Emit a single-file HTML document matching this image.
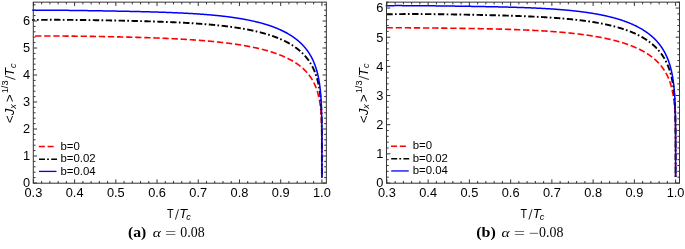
<!DOCTYPE html>
<html><head><meta charset="utf-8"><style>
html,body{margin:0;padding:0;background:#fff;}
body{width:685px;height:249px;overflow:hidden;}
svg{display:block;will-change:transform;}
.tl{font-family:"Liberation Sans",sans-serif;font-size:12.8px;fill:#000;}
.lg{font-family:"Liberation Sans",sans-serif;font-size:11.4px;fill:#000;}
.al{font-family:"Liberation Sans",sans-serif;font-size:13px;fill:#000;}
.yl{font-family:"Liberation Sans",sans-serif;font-size:13.4px;fill:#000;}
.sub{font-size:9.2px;}
.sup{font-size:9.2px;}
.cap{font-family:"Liberation Serif",serif;font-size:13.3px;fill:#000;}
.cap.dg{font-size:13.9px;}
.cap.bl{font-size:14.2px;}
.cap.al2{font-size:12.2px;}
</style></head><body>
<svg width="685" height="249" viewBox="0 0 685 249">
<rect width="685" height="249" fill="#fff"/>
<path d="M32.20,35.97 L33.40,35.97 L34.12,35.97 L34.84,35.97 L35.56,35.97 L36.27,35.97 L36.99,35.97 L37.70,35.97 L38.41,35.96 L39.13,35.96 L39.83,35.96 L40.54,35.96 L41.25,35.96 L41.95,35.97 L42.66,35.97 L43.36,35.97 L44.06,35.97 L44.76,35.97 L45.46,35.97 L46.15,35.97 L46.85,35.97 L47.54,35.98 L48.24,35.98 L48.93,35.98 L49.62,35.98 L50.30,35.99 L50.99,35.99 L51.68,35.99 L52.36,35.99 L53.04,36.00 L53.72,36.00 L54.40,36.00 L55.08,36.01 L55.76,36.01 L56.43,36.01 L57.11,36.02 L57.78,36.02 L58.45,36.03 L59.12,36.03 L59.79,36.04 L60.46,36.04 L61.13,36.05 L61.79,36.05 L62.45,36.06 L63.12,36.06 L63.78,36.07 L64.44,36.07 L65.09,36.08 L65.75,36.08 L66.41,36.09 L67.06,36.09 L67.71,36.10 L68.36,36.10 L69.01,36.11 L69.66,36.12 L70.31,36.12 L70.96,36.13 L71.60,36.14 L72.24,36.14 L72.88,36.15 L73.53,36.16 L74.16,36.16 L74.80,36.17 L75.44,36.18 L76.07,36.18 L76.71,36.19 L77.34,36.20 L77.97,36.21 L78.60,36.21 L79.23,36.22 L79.86,36.23 L80.49,36.24 L81.11,36.24 L81.73,36.25 L82.36,36.26 L82.98,36.27 L83.60,36.27 L84.22,36.28 L84.83,36.29 L85.45,36.30 L86.06,36.31 L86.68,36.32 L87.29,36.32 L87.90,36.33 L88.51,36.34 L89.12,36.35 L89.72,36.36 L90.33,36.37 L90.94,36.38 L91.54,36.39 L92.14,36.40 L92.74,36.40 L93.34,36.41 L93.94,36.42 L94.54,36.43 L95.13,36.44 L95.73,36.45 L96.32,36.46 L96.91,36.47 L97.50,36.48 L98.09,36.49 L98.68,36.50 L99.27,36.51 L99.85,36.52 L100.44,36.53 L101.02,36.54 L101.60,36.55 L102.18,36.56 L102.76,36.57 L103.34,36.58 L103.92,36.59 L104.49,36.60 L105.07,36.61 L105.64,36.62 L106.21,36.63 L106.78,36.64 L107.35,36.65 L107.92,36.66 L108.49,36.68 L109.06,36.69 L109.62,36.70 L110.19,36.71 L110.75,36.72 L111.31,36.73 L111.87,36.74 L112.43,36.75 L112.99,36.76 L113.54,36.78 L114.10,36.79 L114.65,36.80 L115.21,36.81 L115.76,36.82 L116.31,36.83 L116.86,36.85 L117.41,36.86 L117.95,36.87 L118.50,36.88 L119.04,36.89 L119.59,36.91 L120.13,36.92 L120.67,36.93 L121.21,36.94 L121.75,36.96 L122.29,36.97 L122.83,36.98 L123.36,36.99 L123.90,37.01 L124.43,37.02 L124.96,37.03 L125.49,37.04 L126.02,37.06 L126.55,37.07 L127.08,37.08 L127.61,37.10 L128.13,37.11 L128.65,37.12 L129.18,37.14 L129.70,37.15 L130.22,37.16 L130.74,37.18 L131.26,37.19 L131.78,37.20 L132.29,37.22 L132.81,37.23 L133.32,37.25 L133.83,37.26 L134.35,37.27 L134.86,37.29 L135.37,37.30 L135.87,37.32 L136.38,37.33 L136.89,37.34 L137.39,37.36 L137.90,37.37 L138.40,37.39 L138.90,37.40 L139.40,37.42 L140.15,37.44 L140.90,37.46 L141.64,37.48 L142.38,37.51 L143.12,37.53 L143.86,37.55 L144.59,37.58 L145.33,37.60 L146.05,37.62 L146.78,37.65 L147.51,37.67 L148.23,37.70 L148.95,37.72 L149.67,37.74 L150.38,37.77 L151.09,37.79 L151.80,37.82 L152.51,37.84 L153.22,37.87 L153.92,37.89 L154.62,37.92 L155.32,37.95 L156.02,37.97 L156.71,38.00 L157.40,38.03 L158.09,38.05 L158.78,38.08 L159.46,38.11 L160.14,38.13 L160.82,38.16 L161.50,38.19 L162.18,38.22 L162.85,38.24 L163.52,38.27 L164.19,38.30 L164.86,38.33 L165.52,38.36 L166.18,38.39 L166.84,38.42 L167.50,38.45 L168.16,38.48 L168.81,38.51 L169.46,38.54 L170.11,38.57 L170.75,38.60 L171.40,38.63 L172.04,38.66 L172.68,38.69 L173.32,38.72 L173.95,38.75 L174.59,38.78 L175.22,38.82 L175.85,38.85 L176.47,38.88 L177.10,38.91 L177.72,38.95 L178.34,38.98 L178.96,39.01 L179.57,39.05 L180.19,39.08 L180.80,39.11 L181.41,39.15 L182.02,39.18 L182.62,39.22 L183.22,39.25 L183.83,39.29 L184.42,39.32 L185.02,39.36 L185.62,39.39 L186.21,39.43 L186.80,39.47 L187.39,39.50 L187.98,39.54 L188.56,39.58 L189.14,39.61 L189.72,39.65 L190.30,39.69 L190.88,39.73 L191.45,39.76 L192.03,39.80 L192.60,39.84 L193.16,39.88 L193.73,39.92 L194.30,39.96 L194.86,40.00 L195.42,40.04 L195.98,40.08 L196.53,40.12 L197.09,40.16 L197.64,40.20 L198.19,40.24 L198.74,40.28 L199.29,40.32 L199.83,40.37 L200.37,40.41 L200.92,40.45 L201.45,40.49 L201.99,40.53 L202.53,40.58 L203.06,40.62 L203.59,40.66 L204.12,40.71 L204.65,40.75 L205.17,40.80 L205.70,40.84 L206.22,40.88 L206.74,40.93 L207.26,40.97 L207.77,41.02 L208.29,41.07 L208.80,41.11 L209.31,41.16 L209.82,41.20 L210.33,41.25 L210.83,41.30 L211.34,41.34 L211.84,41.39 L212.34,41.44 L212.83,41.49 L213.50,41.55 L214.15,41.62 L214.81,41.68 L215.46,41.75 L216.11,41.81 L216.75,41.88 L217.39,41.95 L218.03,42.01 L218.67,42.08 L219.30,42.15 L219.93,42.22 L220.56,42.29 L221.18,42.36 L221.80,42.43 L222.42,42.50 L223.03,42.57 L223.64,42.64 L224.25,42.71 L224.86,42.78 L225.46,42.86 L226.06,42.93 L226.65,43.00 L227.25,43.08 L227.84,43.15 L228.42,43.23 L229.01,43.30 L229.59,43.38 L230.17,43.45 L230.74,43.53 L231.32,43.61 L231.89,43.68 L232.45,43.76 L233.02,43.84 L233.58,43.92 L234.14,44.00 L234.69,44.08 L235.24,44.16 L235.79,44.24 L236.34,44.32 L236.88,44.40 L237.43,44.48 L237.96,44.56 L238.50,44.65 L239.03,44.73 L239.56,44.81 L240.09,44.90 L240.62,44.98 L241.14,45.07 L241.66,45.15 L242.18,45.24 L242.69,45.32 L243.20,45.41 L243.71,45.50 L244.22,45.58 L244.72,45.67 L245.22,45.76 L245.72,45.85 L246.22,45.94 L246.71,46.03 L247.32,46.14 L247.93,46.25 L248.54,46.37 L249.14,46.48 L249.74,46.60 L250.33,46.71 L250.92,46.83 L251.50,46.95 L252.09,47.06 L252.66,47.18 L253.24,47.30 L253.81,47.42 L254.37,47.54 L254.94,47.66 L255.50,47.78 L256.05,47.90 L256.60,48.03 L257.15,48.15 L257.69,48.27 L258.23,48.40 L258.77,48.52 L259.30,48.65 L259.83,48.78 L260.36,48.90 L260.88,49.03 L261.40,49.16 L261.91,49.29 L262.43,49.42 L262.93,49.55 L263.44,49.68 L263.94,49.81 L264.44,49.94 L264.93,50.07 L265.42,50.21 L265.91,50.34 L266.39,50.47 L266.97,50.64 L267.54,50.80 L268.11,50.96 L268.67,51.13 L269.23,51.29 L269.78,51.46 L270.33,51.62 L270.87,51.79 L271.41,51.96 L271.95,52.13 L272.48,52.30 L273.00,52.47 L273.52,52.64 L274.04,52.81 L274.55,52.98 L275.06,53.16 L275.56,53.33 L276.06,53.51 L276.56,53.68 L277.05,53.86 L277.53,54.04 L278.02,54.22 L278.49,54.40 L278.97,54.58 L279.44,54.76 L279.98,54.97 L280.52,55.18 L281.05,55.39 L281.57,55.61 L282.09,55.82 L282.61,56.04 L283.12,56.26 L283.62,56.47 L284.12,56.69 L284.62,56.91 L285.10,57.13 L285.59,57.36 L286.07,57.58 L286.54,57.80 L287.01,58.03 L287.47,58.25 L287.93,58.48 L288.38,58.71 L288.83,58.94 L289.34,59.20 L289.84,59.46 L290.33,59.72 L290.82,59.99 L291.31,60.26 L291.78,60.52 L292.25,60.79 L292.72,61.06 L293.18,61.33 L293.63,61.60 L294.08,61.88 L294.52,62.15 L294.95,62.43 L295.38,62.70 L295.81,62.98 L296.23,63.26 L296.69,63.57 L297.15,63.88 L297.60,64.20 L298.05,64.52 L298.49,64.84 L298.92,65.16 L299.34,65.48 L299.76,65.80 L300.18,66.12 L300.58,66.45 L300.98,66.77 L301.38,67.10 L301.77,67.43 L302.15,67.76 L302.53,68.09 L302.94,68.45 L303.35,68.82 L303.74,69.19 L304.13,69.57 L304.52,69.94 L304.90,70.31 L305.27,70.69 L305.63,71.07 L305.99,71.44 L306.34,71.82 L306.69,72.20 L307.03,72.59 L307.36,72.97 L307.69,73.35 L308.01,73.74 L308.36,74.16 L308.70,74.59 L309.03,75.02 L309.36,75.45 L309.68,75.88 L309.99,76.31 L310.30,76.74 L310.60,77.18 L310.89,77.61 L311.18,78.05 L311.46,78.49 L311.74,78.93 L312.01,79.37 L312.27,79.81 L312.53,80.25 L312.78,80.70 L313.03,81.14 L313.27,81.59 L313.51,82.03 L313.74,82.48 L313.97,82.93 L314.19,83.38 L314.40,83.83 L314.64,84.33 L314.86,84.82 L315.08,85.32 L315.29,85.82 L315.50,86.32 L315.70,86.82 L315.90,87.32 L316.09,87.82 L316.28,88.33 L316.47,88.83 L316.64,89.34 L316.82,89.84 L316.99,90.35 L317.15,90.86 L317.31,91.37 L317.47,91.88 L317.62,92.40 L317.76,92.91 L317.91,93.43 L318.05,93.94 L318.18,94.46 L318.31,94.98 L318.44,95.50 L318.56,96.02 L318.68,96.54 L318.80,97.06 L318.91,97.59 L319.02,98.11 L319.13,98.64 L319.23,99.16 L319.34,99.69 L319.43,100.22 L319.53,100.75 L319.62,101.28 L319.71,101.81 L319.79,102.34 L319.88,102.88 L319.96,103.41 L320.04,103.95 L320.11,104.49 L320.18,105.02 L320.25,105.56 L320.32,106.10 L320.39,106.64 L320.45,107.14 L320.50,107.64 L320.56,108.13 L320.61,108.63 L320.66,109.13 L320.71,109.63 L320.76,110.14 L320.81,110.64 L320.85,111.14 L320.90,111.65 L320.94,112.15 L320.98,112.66 L321.02,113.16 L321.06,113.67 L321.09,114.18 L321.13,114.69 L321.16,115.20 L321.20,115.71 L321.23,116.22 L321.26,116.74 L321.29,117.25 L321.32,117.76 L321.34,118.28 L321.37,118.80 L321.39,119.31 L321.42,119.83 L321.44,120.35 L321.46,120.87 L321.49,121.39 L321.51,121.92 L321.53,122.44 L321.55,122.96 L321.56,123.49 L321.58,124.01 L321.60,124.54 L321.61,125.07 L321.63,125.60 L321.64,126.13 L321.66,126.66 L321.67,127.19 L321.68,127.73 L321.70,128.26 L321.71,128.80 L321.72,129.33 L321.73,129.87 L321.74,130.41 L321.75,130.95 L321.76,131.49 L321.77,132.03 L321.78,132.58 L321.78,133.12 L321.79,133.67 L321.80,134.21 L321.80,134.76 L321.81,135.31 L321.82,135.81 L321.82,136.31 L321.83,136.82 L321.83,137.32 L321.84,137.83 L321.84,138.33 L321.84,138.84 L321.85,139.35 L321.85,139.86 L321.85,140.37 L321.86,140.88 L321.86,141.40 L321.86,141.91 L321.87,142.43 L321.87,142.94 L321.87,143.46 L321.87,143.98 L321.88,144.51 L321.88,145.03 L321.88,145.55 L321.88,146.08 L321.88,146.61 L321.88,147.14 L321.89,147.67 L321.89,148.20 L321.89,148.73 L321.89,149.27 L321.89,149.81 L321.89,150.34 L321.89,150.89 L321.89,151.43 L321.89,151.97 L321.89,152.52 L321.89,153.07 L321.90,153.62 L321.90,154.17 L321.90,154.72 L321.90,155.23 L321.90,155.73 L321.90,156.23 L321.90,156.74 L321.90,157.25 L321.90,157.76 L321.90,158.27 L321.90,158.79 L321.90,159.30 L321.90,159.82 L321.90,160.34 L321.90,160.87 L321.90,161.40 L321.90,161.92 L321.90,162.46 L321.90,162.99 L321.90,163.53 L321.90,164.07 L321.90,164.61 L321.90,165.16 L321.90,165.71 L321.90,166.26 L321.90,166.82 L321.90,167.38 L321.90,167.88 L321.90,168.39 L321.90,168.90 L321.90,169.41 L321.90,169.93 L321.90,170.45 L321.90,170.97 L321.90,171.50 L321.90,172.04 L321.90,172.58 L321.90,173.12 L321.90,173.68 L321.90,174.23 L321.90,174.80 L321.90,175.30 L321.90,175.81 L321.90,176.32 L321.90,176.85 L321.90,177.38 L321.90,177.53" stroke="#f00" stroke-width="1.6" fill="none" stroke-dasharray="6.3 2.8" stroke-dashoffset="6.2"/>
<path d="M32.20,19.94 L33.40,19.94 L34.12,19.93 L34.84,19.92 L35.56,19.91 L36.27,19.90 L36.99,19.89 L37.70,19.89 L38.41,19.88 L39.13,19.87 L39.83,19.87 L40.54,19.86 L41.25,19.86 L41.95,19.85 L42.66,19.85 L43.36,19.84 L44.06,19.84 L44.76,19.84 L45.46,19.83 L46.15,19.83 L46.85,19.83 L47.54,19.82 L48.24,19.82 L48.93,19.82 L49.62,19.82 L50.30,19.82 L50.99,19.82 L51.68,19.82 L52.36,19.82 L53.04,19.82 L53.72,19.82 L54.40,19.82 L55.08,19.82 L55.76,19.82 L56.43,19.82 L57.11,19.82 L57.78,19.82 L58.45,19.82 L59.12,19.82 L59.79,19.83 L60.46,19.83 L61.13,19.83 L61.79,19.83 L62.45,19.84 L63.12,19.84 L63.78,19.84 L64.44,19.85 L65.09,19.85 L65.75,19.85 L66.41,19.86 L67.06,19.86 L67.71,19.87 L68.36,19.87 L69.01,19.88 L69.66,19.88 L70.31,19.89 L70.96,19.89 L71.60,19.90 L72.24,19.90 L72.88,19.91 L73.53,19.91 L74.16,19.92 L74.80,19.92 L75.44,19.93 L76.07,19.94 L76.71,19.94 L77.34,19.95 L77.97,19.96 L78.60,19.96 L79.23,19.97 L79.86,19.98 L80.49,19.98 L81.11,19.99 L81.73,20.00 L82.36,20.00 L82.98,20.01 L83.60,20.02 L84.22,20.03 L84.83,20.03 L85.45,20.04 L86.06,20.05 L86.68,20.06 L87.29,20.07 L87.90,20.07 L88.51,20.08 L89.12,20.09 L89.72,20.10 L90.33,20.11 L90.94,20.11 L91.54,20.12 L92.14,20.13 L92.74,20.14 L93.34,20.15 L93.94,20.16 L94.54,20.17 L95.13,20.18 L95.73,20.18 L96.32,20.19 L96.91,20.20 L97.50,20.21 L98.09,20.22 L98.68,20.23 L99.27,20.24 L99.85,20.25 L100.44,20.26 L101.02,20.27 L101.60,20.28 L102.18,20.29 L102.76,20.30 L103.34,20.31 L103.92,20.32 L104.49,20.33 L105.07,20.34 L105.64,20.35 L106.21,20.36 L106.78,20.37 L107.35,20.38 L107.92,20.39 L108.49,20.40 L109.06,20.41 L109.62,20.42 L110.19,20.43 L110.75,20.44 L111.31,20.45 L111.87,20.46 L112.43,20.47 L112.99,20.48 L113.54,20.50 L114.10,20.51 L114.65,20.52 L115.21,20.53 L115.76,20.54 L116.31,20.55 L116.86,20.56 L117.41,20.57 L117.95,20.58 L118.50,20.59 L119.04,20.61 L119.59,20.62 L120.13,20.63 L120.67,20.64 L121.21,20.65 L121.75,20.66 L122.29,20.67 L122.83,20.69 L123.36,20.70 L123.90,20.71 L124.43,20.72 L124.96,20.73 L125.49,20.75 L126.02,20.76 L126.55,20.77 L127.08,20.78 L127.61,20.79 L128.13,20.81 L128.65,20.82 L129.18,20.83 L129.70,20.84 L130.22,20.85 L130.74,20.87 L131.26,20.88 L131.78,20.89 L132.29,20.90 L132.81,20.92 L133.32,20.93 L133.83,20.94 L134.35,20.96 L134.86,20.97 L135.37,20.98 L135.87,20.99 L136.38,21.01 L136.89,21.02 L137.39,21.03 L137.90,21.05 L138.40,21.06 L138.90,21.07 L139.40,21.09 L140.15,21.11 L140.90,21.13 L141.64,21.15 L142.38,21.17 L143.12,21.19 L143.86,21.21 L144.59,21.23 L145.33,21.25 L146.05,21.27 L146.78,21.29 L147.51,21.32 L148.23,21.34 L148.95,21.36 L149.67,21.38 L150.38,21.40 L151.09,21.43 L151.80,21.45 L152.51,21.47 L153.22,21.49 L153.92,21.52 L154.62,21.54 L155.32,21.56 L156.02,21.59 L156.71,21.61 L157.40,21.63 L158.09,21.66 L158.78,21.68 L159.46,21.71 L160.14,21.73 L160.82,21.75 L161.50,21.78 L162.18,21.80 L162.85,21.83 L163.52,21.85 L164.19,21.88 L164.86,21.91 L165.52,21.93 L166.18,21.96 L166.84,21.98 L167.50,22.01 L168.16,22.04 L168.81,22.06 L169.46,22.09 L170.11,22.12 L170.75,22.15 L171.40,22.17 L172.04,22.20 L172.68,22.23 L173.32,22.26 L173.95,22.29 L174.59,22.32 L175.22,22.34 L175.85,22.37 L176.47,22.40 L177.10,22.43 L177.72,22.46 L178.34,22.49 L178.96,22.52 L179.57,22.55 L180.19,22.58 L180.80,22.61 L181.41,22.65 L182.02,22.68 L182.62,22.71 L183.22,22.74 L183.83,22.77 L184.42,22.81 L185.02,22.84 L185.62,22.87 L186.21,22.90 L186.80,22.94 L187.39,22.97 L187.98,23.00 L188.56,23.04 L189.14,23.07 L189.72,23.11 L190.30,23.14 L190.88,23.18 L191.45,23.21 L192.03,23.25 L192.60,23.28 L193.16,23.32 L193.73,23.36 L194.30,23.39 L194.86,23.43 L195.42,23.47 L195.98,23.50 L196.53,23.54 L197.09,23.58 L197.64,23.62 L198.19,23.66 L198.74,23.69 L199.29,23.73 L199.83,23.77 L200.37,23.81 L200.92,23.85 L201.45,23.89 L201.99,23.93 L202.53,23.97 L203.06,24.01 L203.59,24.06 L204.12,24.10 L204.65,24.14 L205.17,24.18 L205.70,24.22 L206.22,24.26 L206.74,24.31 L207.26,24.35 L207.77,24.39 L208.29,24.44 L208.80,24.48 L209.31,24.53 L209.82,24.57 L210.33,24.61 L210.83,24.66 L211.34,24.71 L211.84,24.75 L212.34,24.80 L213.00,24.86 L213.66,24.92 L214.32,24.98 L214.97,25.05 L215.62,25.11 L216.27,25.17 L216.91,25.24 L217.55,25.30 L218.19,25.37 L218.83,25.44 L219.46,25.50 L220.09,25.57 L220.71,25.64 L221.34,25.71 L221.96,25.77 L222.57,25.84 L223.18,25.91 L223.80,25.98 L224.40,26.05 L225.01,26.13 L225.61,26.20 L226.21,26.27 L226.80,26.34 L227.39,26.42 L227.98,26.49 L228.57,26.57 L229.15,26.64 L229.73,26.72 L230.31,26.79 L230.89,26.87 L231.46,26.95 L232.03,27.02 L232.59,27.10 L233.16,27.18 L233.72,27.26 L234.27,27.34 L234.83,27.42 L235.38,27.50 L235.93,27.58 L236.48,27.66 L237.02,27.75 L237.56,27.83 L238.10,27.91 L238.63,28.00 L239.17,28.08 L239.70,28.17 L240.22,28.25 L240.75,28.34 L241.27,28.43 L241.79,28.51 L242.31,28.60 L242.82,28.69 L243.33,28.78 L243.84,28.87 L244.34,28.96 L244.85,29.05 L245.35,29.14 L245.85,29.23 L246.34,29.32 L246.83,29.41 L247.45,29.53 L248.05,29.65 L248.66,29.76 L249.26,29.88 L249.86,30.00 L250.45,30.12 L251.04,30.24 L251.62,30.36 L252.20,30.49 L252.78,30.61 L253.35,30.73 L253.92,30.86 L254.49,30.98 L255.05,31.11 L255.61,31.24 L256.16,31.36 L256.71,31.49 L257.26,31.62 L257.80,31.75 L258.34,31.88 L258.88,32.01 L259.41,32.15 L259.94,32.28 L260.46,32.41 L260.98,32.55 L261.50,32.68 L262.02,32.82 L262.53,32.96 L263.04,33.09 L263.54,33.23 L264.04,33.37 L264.54,33.51 L265.03,33.65 L265.52,33.79 L266.01,33.94 L266.49,34.08 L266.97,34.22 L267.54,34.39 L268.11,34.57 L268.67,34.74 L269.23,34.92 L269.78,35.10 L270.33,35.27 L270.87,35.45 L271.41,35.63 L271.95,35.82 L272.48,36.00 L273.00,36.18 L273.52,36.36 L274.04,36.55 L274.55,36.74 L275.06,36.92 L275.56,37.11 L276.06,37.30 L276.56,37.49 L277.05,37.68 L277.53,37.87 L278.02,38.06 L278.49,38.26 L278.97,38.45 L279.44,38.65 L279.90,38.84 L280.36,39.04 L280.90,39.27 L281.42,39.50 L281.95,39.74 L282.46,39.97 L282.97,40.21 L283.48,40.44 L283.98,40.68 L284.47,40.92 L284.97,41.16 L285.45,41.40 L285.93,41.65 L286.40,41.89 L286.87,42.14 L287.34,42.38 L287.80,42.63 L288.25,42.88 L288.70,43.13 L289.15,43.38 L289.59,43.63 L290.03,43.88 L290.46,44.14 L290.94,44.43 L291.43,44.72 L291.90,45.02 L292.37,45.31 L292.83,45.61 L293.29,45.91 L293.74,46.21 L294.19,46.51 L294.63,46.81 L295.06,47.11 L295.49,47.42 L295.91,47.72 L296.33,48.03 L296.74,48.34 L297.15,48.65 L297.55,48.96 L297.95,49.27 L298.34,49.58 L298.78,49.94 L299.20,50.29 L299.62,50.65 L300.04,51.01 L300.45,51.37 L300.85,51.73 L301.25,52.09 L301.64,52.45 L302.02,52.82 L302.40,53.18 L302.78,53.55 L303.14,53.92 L303.51,54.29 L303.86,54.66 L304.21,55.04 L304.56,55.41 L304.90,55.79 L305.23,56.16 L305.56,56.54 L305.92,56.96 L306.27,57.38 L306.62,57.81 L306.96,58.24 L307.30,58.66 L307.62,59.09 L307.95,59.52 L308.26,59.95 L308.57,60.39 L308.88,60.82 L309.18,61.26 L309.47,61.69 L309.76,62.13 L310.05,62.57 L310.32,63.01 L310.60,63.45 L310.86,63.90 L311.13,64.34 L311.38,64.79 L311.64,65.24 L311.88,65.69 L312.13,66.13 L312.37,66.59 L312.60,67.04 L312.83,67.49 L313.05,67.95 L313.27,68.40 L313.49,68.86 L313.70,69.32 L313.91,69.77 L314.11,70.23 L314.31,70.70 L314.50,71.16 L314.69,71.62 L314.88,72.09 L315.08,72.60 L315.28,73.11 L315.47,73.63 L315.65,74.14 L315.84,74.66 L316.01,75.18 L316.19,75.70 L316.36,76.22 L316.53,76.74 L316.69,77.26 L316.85,77.78 L317.00,78.31 L317.15,78.84 L317.30,79.36 L317.44,79.89 L317.58,80.42 L317.71,80.95 L317.85,81.48 L317.98,82.02 L318.10,82.55 L318.22,83.09 L318.34,83.62 L318.46,84.16 L318.56,84.65 L318.66,85.14 L318.76,85.63 L318.86,86.12 L318.95,86.62 L319.04,87.11 L319.13,87.60 L319.22,88.10 L319.30,88.60 L319.38,89.09 L319.46,89.59 L319.54,90.09 L319.62,90.59 L319.69,91.09 L319.77,91.59 L319.84,92.09 L319.90,92.59 L319.97,93.10 L320.04,93.60 L320.10,94.11 L320.16,94.61 L320.22,95.12 L320.28,95.63 L320.33,96.14 L320.39,96.64 L320.44,97.15 L320.49,97.67 L320.54,98.18 L320.59,98.69 L320.64,99.20 L320.69,99.72 L320.73,100.23 L320.77,100.75 L320.82,101.26 L320.86,101.78 L320.90,102.30 L320.93,102.82 L320.97,103.34 L321.01,103.86 L321.04,104.38 L321.08,104.90 L321.11,105.42 L321.14,105.95 L321.17,106.47 L321.20,107.00 L321.23,107.53 L321.26,108.05 L321.28,108.58 L321.31,109.11 L321.34,109.64 L321.36,110.17 L321.38,110.70 L321.41,111.23 L321.43,111.77 L321.45,112.30 L321.47,112.84 L321.49,113.37 L321.51,113.91 L321.52,114.45 L321.54,114.99 L321.56,115.52 L321.57,116.07 L321.59,116.61 L321.60,117.15 L321.62,117.69 L321.63,118.24 L321.65,118.78 L321.66,119.33 L321.67,119.88 L321.68,120.42 L321.69,120.97 L321.70,121.52 L321.72,122.07 L321.72,122.63 L321.73,123.18 L321.74,123.73 L321.75,124.23 L321.76,124.74 L321.77,125.24 L321.77,125.74 L321.78,126.24 L321.79,126.75 L321.79,127.25 L321.80,127.76 L321.80,128.27 L321.81,128.78 L321.81,129.28 L321.82,129.79 L321.82,130.31 L321.83,130.82 L321.83,131.33 L321.84,131.85 L321.84,132.36 L321.84,132.88 L321.85,133.39 L321.85,133.91 L321.85,134.43 L321.86,134.95 L321.86,135.48 L321.86,136.00 L321.86,136.52 L321.87,137.05 L321.87,137.57 L321.87,138.10 L321.87,138.63 L321.87,139.16 L321.88,139.69 L321.88,140.23 L321.88,140.76 L321.88,141.30 L321.88,141.83 L321.88,142.37 L321.89,142.91 L321.89,143.45 L321.89,144.00 L321.89,144.54 L321.89,145.09 L321.89,145.64 L321.89,146.18 L321.89,146.74 L321.89,147.29 L321.89,147.84 L321.89,148.40 L321.89,148.96 L321.89,149.52 L321.90,150.08 L321.90,150.58 L321.90,151.08 L321.90,151.58 L321.90,152.09 L321.90,152.60 L321.90,153.11 L321.90,153.62 L321.90,154.13 L321.90,154.64 L321.90,155.16 L321.90,155.68 L321.90,156.20 L321.90,156.72 L321.90,157.24 L321.90,157.77 L321.90,158.30 L321.90,158.83 L321.90,159.36 L321.90,159.90 L321.90,160.43 L321.90,160.97 L321.90,161.52 L321.90,162.06 L321.90,162.61 L321.90,163.16 L321.90,163.72 L321.90,164.28 L321.90,164.84 L321.90,165.40 L321.90,165.97 L321.90,166.47 L321.90,166.98 L321.90,167.48 L321.90,167.99 L321.90,168.51 L321.90,169.02 L321.90,169.55 L321.90,170.07 L321.90,170.60 L321.90,171.13 L321.90,171.67 L321.90,172.22 L321.90,172.77 L321.90,173.32 L321.90,173.89 L321.90,174.45 L321.90,175.03 L321.90,175.53 L321.90,176.04 L321.90,176.56 L321.90,177.08 L321.90,177.52" stroke="#000" stroke-width="1.9" fill="none" stroke-dasharray="6.4 2.3 1.7 2.5" stroke-dashoffset="3.9"/>
<path d="M32.20,10.20 L33.40,10.20 L34.12,10.20 L34.84,10.20 L35.56,10.20 L36.27,10.19 L36.99,10.19 L37.70,10.19 L38.41,10.19 L39.13,10.19 L39.83,10.19 L40.54,10.19 L41.25,10.19 L41.95,10.19 L42.66,10.19 L43.36,10.19 L44.06,10.19 L44.76,10.20 L45.46,10.20 L46.15,10.20 L46.85,10.20 L47.54,10.20 L48.24,10.21 L48.93,10.21 L49.62,10.21 L50.30,10.22 L50.99,10.22 L51.68,10.22 L52.36,10.23 L53.04,10.23 L53.72,10.24 L54.40,10.24 L55.08,10.25 L55.76,10.25 L56.43,10.26 L57.11,10.26 L57.78,10.27 L58.45,10.27 L59.12,10.28 L59.79,10.28 L60.46,10.29 L61.13,10.29 L61.79,10.30 L62.45,10.31 L63.12,10.31 L63.78,10.32 L64.44,10.33 L65.09,10.33 L65.75,10.34 L66.41,10.35 L67.06,10.35 L67.71,10.36 L68.36,10.37 L69.01,10.38 L69.66,10.38 L70.31,10.39 L70.96,10.40 L71.60,10.41 L72.24,10.41 L72.88,10.42 L73.53,10.43 L74.16,10.44 L74.80,10.45 L75.44,10.45 L76.07,10.46 L76.71,10.47 L77.34,10.48 L77.97,10.49 L78.60,10.50 L79.23,10.50 L79.86,10.51 L80.49,10.52 L81.11,10.53 L81.73,10.54 L82.36,10.55 L82.98,10.56 L83.60,10.57 L84.22,10.58 L84.83,10.58 L85.45,10.59 L86.06,10.60 L86.68,10.61 L87.29,10.62 L87.90,10.63 L88.51,10.64 L89.12,10.65 L89.72,10.66 L90.33,10.67 L90.94,10.68 L91.54,10.69 L92.14,10.70 L92.74,10.70 L93.34,10.71 L93.94,10.72 L94.54,10.73 L95.13,10.74 L95.73,10.75 L96.32,10.76 L96.91,10.77 L97.50,10.78 L98.09,10.79 L98.68,10.80 L99.27,10.81 L99.85,10.82 L100.44,10.83 L101.02,10.84 L101.60,10.85 L102.18,10.86 L102.76,10.87 L103.34,10.88 L103.92,10.89 L104.49,10.90 L105.07,10.91 L105.64,10.92 L106.21,10.93 L106.78,10.94 L107.35,10.95 L107.92,10.96 L108.49,10.97 L109.06,10.98 L109.62,10.99 L110.19,11.00 L110.75,11.01 L111.31,11.02 L111.87,11.03 L112.43,11.04 L112.99,11.05 L113.54,11.06 L114.10,11.07 L114.65,11.08 L115.21,11.09 L115.76,11.10 L116.31,11.12 L116.86,11.13 L117.41,11.14 L117.95,11.15 L118.50,11.16 L119.04,11.17 L119.59,11.18 L120.13,11.19 L120.67,11.20 L121.21,11.21 L121.75,11.22 L122.29,11.23 L122.83,11.24 L123.36,11.25 L123.90,11.26 L124.43,11.28 L124.96,11.29 L125.49,11.30 L126.02,11.31 L126.55,11.32 L127.08,11.33 L127.61,11.34 L128.13,11.35 L128.65,11.36 L129.18,11.37 L129.70,11.39 L130.22,11.40 L130.74,11.41 L131.26,11.42 L131.78,11.43 L132.29,11.44 L132.81,11.45 L133.32,11.46 L133.83,11.48 L134.35,11.49 L134.86,11.50 L135.37,11.51 L135.87,11.52 L136.38,11.53 L136.89,11.55 L137.39,11.56 L137.90,11.57 L138.40,11.58 L138.90,11.59 L139.40,11.60 L140.15,11.62 L140.90,11.64 L141.64,11.66 L142.38,11.68 L143.12,11.70 L143.86,11.71 L144.59,11.73 L145.33,11.75 L146.05,11.77 L146.78,11.79 L147.51,11.81 L148.23,11.83 L148.95,11.85 L149.67,11.87 L150.38,11.89 L151.09,11.91 L151.80,11.93 L152.51,11.95 L153.22,11.97 L153.92,11.99 L154.62,12.01 L155.32,12.03 L156.02,12.05 L156.71,12.07 L157.40,12.09 L158.09,12.11 L158.78,12.14 L159.46,12.16 L160.14,12.18 L160.82,12.20 L161.50,12.22 L162.18,12.25 L162.85,12.27 L163.52,12.29 L164.19,12.32 L164.86,12.34 L165.52,12.36 L166.18,12.39 L166.84,12.41 L167.50,12.43 L168.16,12.46 L168.81,12.48 L169.46,12.51 L170.11,12.53 L170.75,12.56 L171.40,12.58 L172.04,12.61 L172.68,12.63 L173.32,12.66 L173.95,12.69 L174.59,12.71 L175.22,12.74 L175.85,12.77 L176.47,12.79 L177.10,12.82 L177.72,12.85 L178.34,12.88 L178.96,12.90 L179.57,12.93 L180.19,12.96 L180.80,12.99 L181.41,13.02 L182.02,13.05 L182.62,13.08 L183.22,13.11 L183.83,13.14 L184.42,13.17 L185.02,13.20 L185.62,13.23 L186.21,13.26 L186.80,13.29 L187.39,13.32 L187.98,13.36 L188.56,13.39 L189.14,13.42 L189.72,13.45 L190.30,13.49 L190.88,13.52 L191.45,13.55 L192.03,13.59 L192.60,13.62 L193.16,13.65 L193.73,13.69 L194.30,13.72 L194.86,13.76 L195.42,13.79 L195.98,13.83 L196.53,13.87 L197.09,13.90 L197.64,13.94 L198.19,13.98 L198.74,14.01 L199.29,14.05 L199.83,14.09 L200.37,14.13 L200.92,14.17 L201.45,14.20 L201.99,14.24 L202.53,14.28 L203.06,14.32 L203.59,14.36 L204.12,14.40 L204.65,14.44 L205.17,14.48 L205.70,14.53 L206.22,14.57 L206.74,14.61 L207.26,14.65 L207.77,14.69 L208.29,14.74 L208.80,14.78 L209.31,14.82 L209.82,14.87 L210.33,14.91 L210.83,14.95 L211.34,15.00 L211.84,15.04 L212.34,15.09 L213.00,15.15 L213.66,15.21 L214.32,15.27 L214.97,15.34 L215.62,15.40 L216.27,15.46 L216.91,15.53 L217.55,15.59 L218.19,15.66 L218.83,15.72 L219.46,15.79 L220.09,15.86 L220.71,15.92 L221.34,15.99 L221.96,16.06 L222.57,16.13 L223.18,16.20 L223.80,16.27 L224.40,16.34 L225.01,16.41 L225.61,16.49 L226.21,16.56 L226.80,16.63 L227.39,16.71 L227.98,16.78 L228.57,16.86 L229.15,16.93 L229.73,17.01 L230.31,17.09 L230.89,17.16 L231.46,17.24 L232.03,17.32 L232.59,17.40 L233.16,17.48 L233.72,17.56 L234.27,17.64 L234.83,17.72 L235.38,17.81 L235.93,17.89 L236.48,17.97 L237.02,18.06 L237.56,18.14 L238.10,18.23 L238.63,18.31 L239.17,18.40 L239.70,18.49 L240.22,18.57 L240.75,18.66 L241.27,18.75 L241.79,18.84 L242.31,18.93 L242.82,19.02 L243.33,19.11 L243.84,19.20 L244.34,19.29 L244.85,19.39 L245.35,19.48 L245.85,19.57 L246.34,19.67 L246.83,19.76 L247.45,19.88 L248.05,20.00 L248.66,20.12 L249.26,20.25 L249.86,20.37 L250.45,20.49 L251.04,20.62 L251.62,20.74 L252.20,20.87 L252.78,21.00 L253.35,21.13 L253.92,21.25 L254.49,21.38 L255.05,21.52 L255.61,21.65 L256.16,21.78 L256.71,21.91 L257.26,22.05 L257.80,22.18 L258.34,22.32 L258.88,22.46 L259.41,22.59 L259.94,22.73 L260.46,22.87 L260.98,23.01 L261.50,23.15 L262.02,23.29 L262.53,23.44 L263.04,23.58 L263.54,23.72 L264.04,23.87 L264.54,24.01 L265.03,24.16 L265.52,24.31 L266.01,24.46 L266.49,24.61 L266.97,24.76 L267.45,24.91 L268.02,25.09 L268.58,25.27 L269.14,25.45 L269.69,25.64 L270.24,25.83 L270.78,26.01 L271.32,26.20 L271.86,26.39 L272.39,26.58 L272.92,26.77 L273.44,26.97 L273.95,27.16 L274.47,27.36 L274.98,27.55 L275.48,27.75 L275.98,27.95 L276.48,28.15 L276.97,28.35 L277.45,28.55 L277.94,28.75 L278.41,28.95 L278.89,29.16 L279.36,29.36 L279.82,29.57 L280.29,29.78 L280.74,29.98 L281.27,30.23 L281.80,30.47 L282.31,30.72 L282.83,30.97 L283.33,31.22 L283.84,31.47 L284.33,31.72 L284.83,31.97 L285.31,32.23 L285.79,32.48 L286.27,32.74 L286.74,33.00 L287.21,33.26 L287.67,33.52 L288.13,33.78 L288.58,34.05 L289.02,34.31 L289.47,34.57 L289.90,34.84 L290.33,35.11 L290.76,35.38 L291.19,35.65 L291.66,35.96 L292.14,36.27 L292.60,36.58 L293.06,36.90 L293.52,37.21 L293.96,37.53 L294.41,37.85 L294.84,38.17 L295.28,38.49 L295.70,38.82 L296.12,39.14 L296.54,39.47 L296.95,39.79 L297.35,40.12 L297.75,40.45 L298.15,40.78 L298.53,41.11 L298.92,41.45 L299.30,41.78 L299.67,42.12 L300.09,42.50 L300.49,42.88 L300.90,43.26 L301.29,43.65 L301.68,44.03 L302.07,44.42 L302.44,44.81 L302.82,45.20 L303.18,45.59 L303.55,45.98 L303.90,46.38 L304.25,46.77 L304.60,47.17 L304.93,47.57 L305.27,47.97 L305.60,48.37 L305.92,48.77 L306.24,49.18 L306.55,49.58 L306.86,49.99 L307.16,50.40 L307.46,50.81 L307.75,51.22 L308.04,51.63 L308.33,52.04 L308.64,52.50 L308.94,52.97 L309.24,53.43 L309.53,53.89 L309.82,54.36 L310.10,54.83 L310.38,55.30 L310.65,55.77 L310.92,56.24 L311.18,56.71 L311.44,57.19 L311.69,57.66 L311.93,58.14 L312.18,58.62 L312.41,59.10 L312.65,59.58 L312.87,60.06 L313.10,60.54 L313.32,61.03 L313.53,61.51 L313.74,62.00 L313.95,62.49 L314.15,62.98 L314.35,63.47 L314.54,63.96 L314.73,64.46 L314.92,64.95 L315.10,65.45 L315.28,65.94 L315.45,66.44 L315.62,66.94 L315.79,67.44 L315.95,67.94 L316.11,68.44 L316.27,68.94 L316.42,69.45 L316.57,69.95 L316.72,70.46 L316.86,70.97 L317.00,71.48 L317.14,71.98 L317.27,72.49 L317.40,73.01 L317.53,73.52 L317.65,74.03 L317.78,74.55 L317.89,75.06 L318.01,75.58 L318.12,76.09 L318.24,76.61 L318.34,77.13 L318.45,77.65 L318.55,78.17 L318.65,78.69 L318.75,79.22 L318.85,79.74 L318.94,80.27 L319.03,80.79 L319.12,81.32 L319.21,81.84 L319.29,82.37 L319.38,82.90 L319.46,83.43 L319.53,83.96 L319.61,84.49 L319.69,85.03 L319.76,85.56 L319.83,86.10 L319.90,86.63 L319.96,87.17 L320.03,87.70 L320.09,88.24 L320.15,88.78 L320.21,89.32 L320.27,89.86 L320.33,90.40 L320.38,90.94 L320.44,91.49 L320.49,92.03 L320.54,92.58 L320.59,93.12 L320.64,93.67 L320.68,94.22 L320.73,94.76 L320.77,95.31 L320.81,95.86 L320.85,96.41 L320.89,96.97 L320.93,97.52 L320.97,98.07 L321.00,98.57 L321.03,99.07 L321.06,99.57 L321.09,100.07 L321.12,100.57 L321.15,101.08 L321.18,101.58 L321.20,102.08 L321.23,102.59 L321.25,103.09 L321.28,103.60 L321.30,104.11 L321.33,104.61 L321.35,105.12 L321.37,105.63 L321.39,106.14 L321.41,106.65 L321.43,107.16 L321.45,107.68 L321.47,108.19 L321.48,108.70 L321.50,109.22 L321.52,109.73 L321.53,110.25 L321.55,110.77 L321.56,111.28 L321.58,111.80 L321.59,112.32 L321.60,112.84 L321.62,113.36 L321.63,113.88 L321.64,114.41 L321.65,114.93 L321.67,115.45 L321.68,115.98 L321.69,116.51 L321.70,117.03 L321.71,117.56 L321.72,118.09 L321.72,118.62 L321.73,119.15 L321.74,119.68 L321.75,120.21 L321.76,120.75 L321.76,121.28 L321.77,121.82 L321.78,122.35 L321.78,122.89 L321.79,123.43 L321.80,123.97 L321.80,124.51 L321.81,125.05 L321.81,125.59 L321.82,126.13 L321.82,126.68 L321.83,127.22 L321.83,127.77 L321.83,128.32 L321.84,128.86 L321.84,129.41 L321.85,129.97 L321.85,130.52 L321.85,131.07 L321.85,131.63 L321.86,132.18 L321.86,132.74 L321.86,133.30 L321.87,133.86 L321.87,134.42 L321.87,134.98 L321.87,135.48 L321.87,135.98 L321.87,136.48 L321.88,136.99 L321.88,137.49 L321.88,138.00 L321.88,138.51 L321.88,139.01 L321.88,139.52 L321.88,140.03 L321.89,140.55 L321.89,141.06 L321.89,141.57 L321.89,142.09 L321.89,142.61 L321.89,143.13 L321.89,143.65 L321.89,144.17 L321.89,144.69 L321.89,145.21 L321.89,145.74 L321.89,146.27 L321.89,146.79 L321.89,147.32 L321.90,147.86 L321.90,148.39 L321.90,148.92 L321.90,149.46 L321.90,150.00 L321.90,150.54 L321.90,151.08 L321.90,151.63 L321.90,152.17 L321.90,152.72 L321.90,153.27 L321.90,153.82 L321.90,154.37 L321.90,154.93 L321.90,155.49 L321.90,156.05 L321.90,156.61 L321.90,157.18 L321.90,157.74 L321.90,158.31 L321.90,158.81 L321.90,159.32 L321.90,159.82 L321.90,160.33 L321.90,160.84 L321.90,161.35 L321.90,161.87 L321.90,162.38 L321.90,162.90 L321.90,163.43 L321.90,163.95 L321.90,164.48 L321.90,165.01 L321.90,165.54 L321.90,166.08 L321.90,166.62 L321.90,167.17 L321.90,167.72 L321.90,168.27 L321.90,168.82 L321.90,169.39 L321.90,169.95 L321.90,170.52 L321.90,171.10 L321.90,171.68 L321.90,172.18 L321.90,172.69 L321.90,173.20 L321.90,173.72 L321.90,174.25 L321.90,174.78 L321.90,175.31 L321.90,175.86 L321.90,176.41 L321.90,176.98 L321.90,177.55" stroke="#00f" stroke-width="1.5" fill="none"/>
<rect x="33.3" y="2.15" width="293.05" height="181.05" fill="none" stroke="#333" stroke-width="1.0"/>
<path d="M33.40,183.2 v-3.8 M33.40,2.15 v3.8 M41.64,183.2 v-2.2 M41.64,2.15 v2.2 M49.89,183.2 v-2.2 M49.89,2.15 v2.2 M58.13,183.2 v-2.2 M58.13,2.15 v2.2 M66.37,183.2 v-2.2 M66.37,2.15 v2.2 M74.61,183.2 v-3.8 M74.61,2.15 v3.8 M82.86,183.2 v-2.2 M82.86,2.15 v2.2 M91.10,183.2 v-2.2 M91.10,2.15 v2.2 M99.34,183.2 v-2.2 M99.34,2.15 v2.2 M107.59,183.2 v-2.2 M107.59,2.15 v2.2 M115.83,183.2 v-3.8 M115.83,2.15 v3.8 M124.07,183.2 v-2.2 M124.07,2.15 v2.2 M132.31,183.2 v-2.2 M132.31,2.15 v2.2 M140.56,183.2 v-2.2 M140.56,2.15 v2.2 M148.80,183.2 v-2.2 M148.80,2.15 v2.2 M157.04,183.2 v-3.8 M157.04,2.15 v3.8 M165.29,183.2 v-2.2 M165.29,2.15 v2.2 M173.53,183.2 v-2.2 M173.53,2.15 v2.2 M181.77,183.2 v-2.2 M181.77,2.15 v2.2 M190.01,183.2 v-2.2 M190.01,2.15 v2.2 M198.26,183.2 v-3.8 M198.26,2.15 v3.8 M206.50,183.2 v-2.2 M206.50,2.15 v2.2 M214.74,183.2 v-2.2 M214.74,2.15 v2.2 M222.99,183.2 v-2.2 M222.99,2.15 v2.2 M231.23,183.2 v-2.2 M231.23,2.15 v2.2 M239.47,183.2 v-3.8 M239.47,2.15 v3.8 M247.71,183.2 v-2.2 M247.71,2.15 v2.2 M255.96,183.2 v-2.2 M255.96,2.15 v2.2 M264.20,183.2 v-2.2 M264.20,2.15 v2.2 M272.44,183.2 v-2.2 M272.44,2.15 v2.2 M280.69,183.2 v-3.8 M280.69,2.15 v3.8 M288.93,183.2 v-2.2 M288.93,2.15 v2.2 M297.17,183.2 v-2.2 M297.17,2.15 v2.2 M305.41,183.2 v-2.2 M305.41,2.15 v2.2 M313.66,183.2 v-2.2 M313.66,2.15 v2.2 M321.90,183.2 v-3.8 M321.90,2.15 v3.8 M33.3,183.00 h3.8 M326.35,183.00 h-3.8 M33.3,177.60 h2.2 M326.35,177.60 h-2.2 M33.3,172.20 h2.2 M326.35,172.20 h-2.2 M33.3,166.80 h2.2 M326.35,166.80 h-2.2 M33.3,161.40 h2.2 M326.35,161.40 h-2.2 M33.3,156.00 h3.8 M326.35,156.00 h-3.8 M33.3,150.60 h2.2 M326.35,150.60 h-2.2 M33.3,145.20 h2.2 M326.35,145.20 h-2.2 M33.3,139.80 h2.2 M326.35,139.80 h-2.2 M33.3,134.40 h2.2 M326.35,134.40 h-2.2 M33.3,129.00 h3.8 M326.35,129.00 h-3.8 M33.3,123.60 h2.2 M326.35,123.60 h-2.2 M33.3,118.20 h2.2 M326.35,118.20 h-2.2 M33.3,112.80 h2.2 M326.35,112.80 h-2.2 M33.3,107.40 h2.2 M326.35,107.40 h-2.2 M33.3,102.00 h3.8 M326.35,102.00 h-3.8 M33.3,96.60 h2.2 M326.35,96.60 h-2.2 M33.3,91.20 h2.2 M326.35,91.20 h-2.2 M33.3,85.80 h2.2 M326.35,85.80 h-2.2 M33.3,80.40 h2.2 M326.35,80.40 h-2.2 M33.3,75.00 h3.8 M326.35,75.00 h-3.8 M33.3,69.60 h2.2 M326.35,69.60 h-2.2 M33.3,64.20 h2.2 M326.35,64.20 h-2.2 M33.3,58.80 h2.2 M326.35,58.80 h-2.2 M33.3,53.40 h2.2 M326.35,53.40 h-2.2 M33.3,48.00 h3.8 M326.35,48.00 h-3.8 M33.3,42.60 h2.2 M326.35,42.60 h-2.2 M33.3,37.20 h2.2 M326.35,37.20 h-2.2 M33.3,31.80 h2.2 M326.35,31.80 h-2.2 M33.3,26.40 h2.2 M326.35,26.40 h-2.2 M33.3,21.00 h3.8 M326.35,21.00 h-3.8 M33.3,15.60 h2.2 M326.35,15.60 h-2.2 M33.3,10.20 h2.2 M326.35,10.20 h-2.2 M33.3,4.80 h2.2 M326.35,4.80 h-2.2" stroke="#333" stroke-width="1" fill="none"/>
<text x="33.40" y="197.3" class="tl" text-anchor="middle">0.3</text>
<text x="74.61" y="197.3" class="tl" text-anchor="middle">0.4</text>
<text x="115.83" y="197.3" class="tl" text-anchor="middle">0.5</text>
<text x="157.04" y="197.3" class="tl" text-anchor="middle">0.6</text>
<text x="198.26" y="197.3" class="tl" text-anchor="middle">0.7</text>
<text x="239.47" y="197.3" class="tl" text-anchor="middle">0.8</text>
<text x="280.69" y="197.3" class="tl" text-anchor="middle">0.9</text>
<text x="321.90" y="197.3" class="tl" text-anchor="middle">1.0</text>
<text x="30.10" y="187.30" class="tl" text-anchor="end">0</text>
<text x="30.10" y="160.30" class="tl" text-anchor="end">1</text>
<text x="30.10" y="133.30" class="tl" text-anchor="end">2</text>
<text x="30.10" y="106.30" class="tl" text-anchor="end">3</text>
<text x="30.10" y="79.30" class="tl" text-anchor="end">4</text>
<text x="30.10" y="52.30" class="tl" text-anchor="end">5</text>
<text x="30.10" y="25.30" class="tl" text-anchor="end">6</text>
<path d="M38.80,146.60 h15.4" stroke="#f00" stroke-width="1.5" stroke-dasharray="6.1 2.7"/>
<path d="M39.00,159.20 h18" stroke="#000" stroke-width="1.5" stroke-dasharray="6.0 2.1 1.8 2.3"/>
<path d="M39.00,171.40 h17.5" stroke="#00f" stroke-width="1.3"/>
<text x="60.50" y="149.80" class="lg">b=0</text>
<text x="60.50" y="162.40" class="lg">b=0.02</text>
<text x="60.50" y="174.90" class="lg">b=0.04</text>
<text y="218.2" class="al"><tspan x="166.90" textLength="6.6" lengthAdjust="spacingAndGlyphs">T</tspan><tspan x="174.40" fill="transparent">/</tspan><tspan x="179.20" font-style="italic">T</tspan><tspan x="186.30" dy="2" class="sub" font-style="italic">c</tspan></text>
<path d="M175.40,219.6 L178.50,209.3" stroke="#000" stroke-width="0.85"/>
<g transform="translate(14.00,123.20) rotate(-90)"><text x="0" y="0" class="yl">&lt;<tspan font-style="italic">J</tspan><tspan class="sub" dy="1.8" font-style="italic">x</tspan><tspan dx="1.8" dy="-1.8">&gt;</tspan><tspan class="sup" dx="1.2" dy="-5.6">1/3</tspan><tspan dx="0.5" dy="5.6" fill="transparent">/</tspan><tspan font-style="italic">T</tspan><tspan class="sub" dy="1.8" font-style="italic">c</tspan></text></g>
<path d="M5.10,76.1 L15.40,79.5" stroke="#000" stroke-width="0.85"/>
<path d="M385.70,27.70 L386.90,27.70 L387.62,27.71 L388.34,27.71 L389.06,27.71 L389.78,27.72 L390.49,27.72 L391.21,27.72 L391.92,27.73 L392.63,27.73 L393.34,27.73 L394.05,27.74 L394.75,27.74 L395.46,27.74 L396.16,27.75 L396.87,27.75 L397.57,27.75 L398.27,27.76 L398.97,27.76 L399.66,27.77 L400.36,27.77 L401.05,27.77 L401.75,27.78 L402.44,27.78 L403.13,27.79 L403.82,27.79 L404.50,27.80 L405.19,27.80 L405.87,27.81 L406.56,27.81 L407.24,27.82 L407.92,27.82 L408.60,27.82 L409.27,27.83 L409.95,27.83 L410.62,27.84 L411.30,27.84 L411.97,27.85 L412.64,27.85 L413.31,27.86 L413.98,27.87 L414.64,27.87 L415.31,27.88 L415.97,27.88 L416.64,27.89 L417.30,27.89 L417.96,27.90 L418.62,27.90 L419.27,27.91 L419.93,27.91 L420.58,27.92 L421.24,27.93 L421.89,27.93 L422.54,27.94 L423.19,27.94 L423.83,27.95 L424.48,27.95 L425.13,27.96 L425.77,27.97 L426.41,27.97 L427.05,27.98 L427.69,27.98 L428.33,27.99 L428.97,28.00 L429.60,28.00 L430.24,28.01 L430.87,28.01 L431.50,28.02 L432.13,28.03 L432.76,28.03 L433.39,28.04 L434.02,28.05 L434.64,28.05 L435.27,28.06 L435.89,28.06 L436.51,28.07 L437.13,28.08 L437.75,28.08 L438.37,28.09 L438.99,28.10 L439.60,28.10 L440.21,28.11 L440.83,28.12 L441.44,28.12 L442.05,28.13 L442.66,28.14 L443.26,28.14 L443.87,28.15 L444.47,28.16 L445.08,28.17 L445.68,28.17 L446.28,28.18 L446.88,28.19 L447.48,28.19 L448.08,28.20 L448.67,28.21 L449.27,28.21 L449.86,28.22 L450.45,28.23 L451.05,28.24 L451.64,28.24 L452.22,28.25 L452.81,28.26 L453.40,28.27 L453.98,28.27 L454.57,28.28 L455.15,28.29 L455.73,28.30 L456.31,28.30 L456.89,28.31 L457.47,28.32 L458.04,28.33 L458.62,28.34 L459.19,28.34 L459.76,28.35 L460.34,28.36 L460.91,28.37 L461.47,28.38 L462.04,28.38 L462.61,28.39 L463.17,28.40 L463.74,28.41 L464.30,28.42 L464.86,28.42 L465.42,28.43 L465.98,28.44 L466.54,28.45 L467.10,28.46 L467.65,28.47 L468.21,28.48 L468.76,28.48 L469.32,28.49 L469.87,28.50 L470.42,28.51 L470.97,28.52 L471.51,28.53 L472.06,28.54 L472.60,28.55 L473.15,28.56 L473.69,28.57 L474.23,28.57 L474.77,28.58 L475.31,28.59 L475.85,28.60 L476.39,28.61 L476.92,28.62 L477.46,28.63 L477.99,28.64 L478.53,28.65 L479.06,28.66 L479.59,28.67 L480.12,28.68 L480.64,28.69 L481.17,28.70 L481.70,28.71 L482.22,28.72 L482.74,28.73 L483.27,28.74 L483.79,28.75 L484.31,28.76 L484.83,28.77 L485.34,28.78 L485.86,28.79 L486.38,28.81 L486.89,28.82 L487.40,28.83 L487.92,28.84 L488.43,28.85 L488.94,28.86 L489.45,28.87 L489.95,28.88 L490.46,28.89 L490.96,28.91 L491.47,28.92 L491.97,28.93 L492.47,28.94 L492.98,28.95 L493.48,28.96 L494.22,28.98 L494.97,29.00 L495.71,29.02 L496.45,29.04 L497.19,29.06 L497.93,29.07 L498.66,29.09 L499.39,29.11 L500.12,29.13 L500.84,29.15 L501.57,29.17 L502.29,29.19 L503.01,29.21 L503.72,29.23 L504.44,29.25 L505.15,29.27 L505.86,29.29 L506.57,29.32 L507.27,29.34 L507.97,29.36 L508.67,29.38 L509.37,29.40 L510.06,29.42 L510.76,29.45 L511.45,29.47 L512.14,29.49 L512.82,29.52 L513.51,29.54 L514.19,29.56 L514.87,29.59 L515.54,29.61 L516.22,29.63 L516.89,29.66 L517.56,29.68 L518.23,29.71 L518.89,29.73 L519.55,29.76 L520.22,29.79 L520.87,29.81 L521.53,29.84 L522.18,29.86 L522.84,29.89 L523.49,29.92 L524.13,29.94 L524.78,29.97 L525.42,30.00 L526.06,30.03 L526.70,30.06 L527.34,30.08 L527.97,30.11 L528.60,30.14 L529.23,30.17 L529.86,30.20 L530.49,30.23 L531.11,30.26 L531.73,30.29 L532.35,30.32 L532.97,30.35 L533.58,30.38 L534.20,30.41 L534.81,30.45 L535.42,30.48 L536.02,30.51 L536.63,30.54 L537.23,30.57 L537.83,30.61 L538.43,30.64 L539.02,30.67 L539.62,30.71 L540.21,30.74 L540.80,30.77 L541.39,30.81 L541.97,30.84 L542.56,30.88 L543.14,30.91 L543.72,30.95 L544.30,30.99 L544.87,31.02 L545.44,31.06 L546.02,31.09 L546.59,31.13 L547.15,31.17 L547.72,31.21 L548.28,31.24 L548.84,31.28 L549.40,31.32 L549.96,31.36 L550.52,31.40 L551.07,31.44 L551.62,31.48 L552.17,31.52 L552.72,31.56 L553.27,31.60 L553.81,31.64 L554.35,31.68 L554.89,31.72 L555.43,31.76 L555.97,31.80 L556.50,31.84 L557.03,31.89 L557.56,31.93 L558.09,31.97 L558.62,32.01 L559.14,32.06 L559.66,32.10 L560.19,32.15 L560.71,32.19 L561.22,32.23 L561.74,32.28 L562.25,32.32 L562.76,32.37 L563.27,32.42 L563.78,32.46 L564.29,32.51 L564.79,32.55 L565.29,32.60 L565.79,32.65 L566.29,32.70 L566.96,32.76 L567.61,32.82 L568.27,32.89 L568.92,32.95 L569.57,33.02 L570.22,33.09 L570.86,33.15 L571.50,33.22 L572.14,33.29 L572.77,33.36 L573.40,33.43 L574.03,33.49 L574.65,33.56 L575.28,33.63 L575.89,33.71 L576.51,33.78 L577.12,33.85 L577.73,33.92 L578.34,33.99 L578.94,34.07 L579.54,34.14 L580.14,34.22 L580.73,34.29 L581.32,34.37 L581.91,34.44 L582.50,34.52 L583.08,34.60 L583.66,34.67 L584.24,34.75 L584.81,34.83 L585.38,34.91 L585.95,34.99 L586.51,35.07 L587.08,35.15 L587.64,35.23 L588.19,35.31 L588.75,35.39 L589.30,35.47 L589.84,35.56 L590.39,35.64 L590.93,35.73 L591.47,35.81 L592.01,35.89 L592.54,35.98 L593.08,36.07 L593.60,36.15 L594.13,36.24 L594.65,36.33 L595.17,36.41 L595.69,36.50 L596.21,36.59 L596.72,36.68 L597.23,36.77 L597.74,36.86 L598.24,36.95 L598.74,37.04 L599.24,37.13 L599.74,37.23 L600.24,37.32 L600.73,37.41 L601.34,37.53 L601.95,37.65 L602.55,37.77 L603.15,37.88 L603.74,38.00 L604.33,38.13 L604.92,38.25 L605.51,38.37 L606.08,38.49 L606.66,38.62 L607.23,38.74 L607.80,38.86 L608.37,38.99 L608.93,39.12 L609.48,39.24 L610.04,39.37 L610.59,39.50 L611.13,39.63 L611.67,39.76 L612.21,39.89 L612.75,40.02 L613.28,40.15 L613.81,40.29 L614.33,40.42 L614.85,40.55 L615.37,40.69 L615.88,40.82 L616.39,40.96 L616.90,41.10 L617.40,41.23 L617.90,41.37 L618.40,41.51 L618.89,41.65 L619.38,41.79 L619.86,41.93 L620.35,42.07 L620.92,42.24 L621.49,42.41 L622.05,42.58 L622.62,42.76 L623.17,42.93 L623.72,43.11 L624.27,43.28 L624.81,43.46 L625.35,43.64 L625.88,43.81 L626.41,43.99 L626.93,44.17 L627.45,44.35 L627.96,44.54 L628.47,44.72 L628.98,44.90 L629.48,45.09 L629.98,45.27 L630.47,45.46 L630.96,45.65 L631.44,45.83 L631.92,46.02 L632.40,46.21 L632.87,46.40 L633.34,46.59 L633.80,46.78 L634.34,47.01 L634.87,47.23 L635.39,47.46 L635.91,47.69 L636.43,47.92 L636.94,48.15 L637.44,48.38 L637.94,48.61 L638.43,48.85 L638.92,49.08 L639.40,49.31 L639.88,49.55 L640.35,49.79 L640.82,50.03 L641.28,50.27 L641.74,50.51 L642.19,50.75 L642.64,50.99 L643.08,51.23 L643.52,51.48 L644.01,51.76 L644.50,52.04 L644.98,52.32 L645.46,52.60 L645.93,52.89 L646.40,53.17 L646.86,53.46 L647.31,53.75 L647.76,54.04 L648.20,54.33 L648.63,54.62 L649.06,54.91 L649.49,55.21 L649.91,55.50 L650.32,55.80 L650.73,56.09 L651.14,56.39 L651.58,56.73 L652.02,57.07 L652.46,57.40 L652.89,57.75 L653.31,58.09 L653.72,58.43 L654.13,58.77 L654.54,59.12 L654.93,59.47 L655.33,59.81 L655.71,60.16 L656.09,60.51 L656.46,60.87 L656.83,61.22 L657.19,61.57 L657.55,61.93 L657.94,62.32 L658.32,62.72 L658.70,63.12 L659.07,63.52 L659.43,63.92 L659.79,64.32 L660.14,64.73 L660.48,65.13 L660.82,65.54 L661.15,65.94 L661.48,66.35 L661.80,66.76 L662.11,67.17 L662.42,67.59 L662.72,68.00 L663.02,68.42 L663.31,68.83 L663.60,69.25 L663.88,69.67 L664.15,70.09 L664.42,70.51 L664.72,70.97 L665.00,71.44 L665.28,71.90 L665.55,72.37 L665.82,72.84 L666.08,73.31 L666.34,73.78 L666.59,74.26 L666.83,74.73 L667.07,75.21 L667.31,75.68 L667.54,76.16 L667.76,76.64 L667.98,77.12 L668.20,77.60 L668.41,78.08 L668.61,78.57 L668.81,79.05 L669.01,79.54 L669.20,80.03 L669.38,80.51 L669.57,81.00 L669.74,81.49 L669.92,81.98 L670.09,82.48 L670.25,82.97 L670.41,83.46 L670.57,83.96 L670.72,84.46 L670.87,84.95 L671.02,85.45 L671.16,85.95 L671.30,86.45 L671.44,86.95 L671.57,87.46 L671.70,87.96 L671.82,88.47 L671.94,88.97 L672.06,89.48 L672.18,89.98 L672.29,90.49 L672.40,91.00 L672.51,91.51 L672.61,92.02 L672.71,92.54 L672.81,93.05 L672.91,93.56 L673.00,94.08 L673.09,94.59 L673.18,95.11 L673.26,95.63 L673.35,96.15 L673.43,96.66 L673.51,97.19 L673.58,97.71 L673.66,98.23 L673.73,98.75 L673.80,99.28 L673.86,99.80 L673.93,100.33 L673.99,100.85 L674.05,101.38 L674.11,101.91 L674.17,102.44 L674.23,102.97 L674.28,103.50 L674.33,104.03 L674.38,104.56 L674.43,105.10 L674.48,105.63 L674.53,106.17 L674.57,106.70 L674.61,107.24 L674.66,107.78 L674.70,108.32 L674.74,108.86 L674.77,109.40 L674.81,109.94 L674.84,110.49 L674.88,111.03 L674.91,111.57 L674.94,112.12 L674.97,112.67 L675.00,113.21 L675.03,113.76 L675.05,114.26 L675.08,114.76 L675.10,115.27 L675.12,115.77 L675.14,116.27 L675.16,116.77 L675.18,117.28 L675.20,117.78 L675.22,118.29 L675.24,118.80 L675.25,119.31 L675.27,119.81 L675.29,120.32 L675.30,120.83 L675.31,121.35 L675.33,121.86 L675.34,122.37 L675.36,122.89 L675.37,123.40 L675.38,123.92 L675.39,124.43 L675.40,124.95 L675.41,125.47 L675.42,125.99 L675.43,126.51 L675.44,127.03 L675.45,127.56 L675.46,128.08 L675.47,128.61 L675.47,129.13 L675.48,129.66 L675.49,130.19 L675.49,130.72 L675.50,131.25 L675.51,131.78 L675.51,132.31 L675.52,132.84 L675.52,133.38 L675.53,133.91 L675.53,134.45 L675.54,134.99 L675.54,135.53 L675.54,136.07 L675.55,136.61 L675.55,137.16 L675.56,137.70 L675.56,138.25 L675.56,138.79 L675.56,139.34 L675.57,139.89 L675.57,140.44 L675.57,141.00 L675.57,141.55 L675.58,142.05 L675.58,142.55 L675.58,143.06 L675.58,143.56 L675.58,144.07 L675.58,144.57 L675.58,145.08 L675.59,145.59 L675.59,146.10 L675.59,146.61 L675.59,147.13 L675.59,147.64 L675.59,148.16 L675.59,148.68 L675.59,149.20 L675.59,149.72 L675.59,150.24 L675.59,150.77 L675.59,151.29 L675.60,151.82 L675.60,152.35 L675.60,152.88 L675.60,153.42 L675.60,153.95 L675.60,154.49 L675.60,155.03 L675.60,155.57 L675.60,156.11 L675.60,156.66 L675.60,157.21 L675.60,157.76 L675.60,158.31 L675.60,158.87 L675.60,159.43 L675.60,159.99 L675.60,160.49 L675.60,160.99 L675.60,161.50 L675.60,162.00 L675.60,162.51 L675.60,163.03 L675.60,163.54 L675.60,164.06 L675.60,164.58 L675.60,165.11 L675.60,165.63 L675.60,166.16 L675.60,166.70 L675.60,167.23 L675.60,167.78 L675.60,168.32 L675.60,168.87 L675.60,169.42 L675.60,169.98 L675.60,170.54 L675.60,171.11 L675.60,171.61 L675.60,172.12 L675.60,172.63 L675.60,173.14 L675.60,173.66 L675.60,174.19 L675.60,174.72 L675.60,175.26 L675.60,175.81 L675.60,176.37 L675.60,176.93 L675.60,177.10" stroke="#f00" stroke-width="1.6" fill="none" stroke-dasharray="6.3 2.8" stroke-dashoffset="-0.9"/>
<path d="M385.70,14.27 L386.90,14.27 L387.62,14.26 L388.34,14.25 L389.06,14.23 L389.78,14.22 L390.49,14.21 L391.21,14.20 L391.92,14.19 L392.63,14.18 L393.34,14.17 L394.05,14.16 L394.75,14.15 L395.46,14.14 L396.16,14.13 L396.87,14.12 L397.57,14.12 L398.27,14.11 L398.97,14.10 L399.66,14.10 L400.36,14.09 L401.05,14.09 L401.75,14.08 L402.44,14.08 L403.13,14.07 L403.82,14.07 L404.50,14.07 L405.19,14.06 L405.87,14.06 L406.56,14.06 L407.24,14.05 L407.92,14.05 L408.60,14.05 L409.27,14.05 L409.95,14.05 L410.62,14.05 L411.30,14.05 L411.97,14.05 L412.64,14.05 L413.31,14.05 L413.98,14.05 L414.64,14.05 L415.31,14.05 L415.97,14.05 L416.64,14.06 L417.30,14.06 L417.96,14.06 L418.62,14.06 L419.27,14.06 L419.93,14.07 L420.58,14.07 L421.24,14.07 L421.89,14.08 L422.54,14.08 L423.19,14.08 L423.83,14.09 L424.48,14.09 L425.13,14.10 L425.77,14.10 L426.41,14.11 L427.05,14.11 L427.69,14.12 L428.33,14.12 L428.97,14.13 L429.60,14.13 L430.24,14.14 L430.87,14.14 L431.50,14.15 L432.13,14.15 L432.76,14.16 L433.39,14.17 L434.02,14.17 L434.64,14.18 L435.27,14.19 L435.89,14.19 L436.51,14.20 L437.13,14.21 L437.75,14.21 L438.37,14.22 L438.99,14.23 L439.60,14.24 L440.21,14.24 L440.83,14.25 L441.44,14.26 L442.05,14.27 L442.66,14.27 L443.26,14.28 L443.87,14.29 L444.47,14.30 L445.08,14.31 L445.68,14.31 L446.28,14.32 L446.88,14.33 L447.48,14.34 L448.08,14.35 L448.67,14.36 L449.27,14.37 L449.86,14.38 L450.45,14.38 L451.05,14.39 L451.64,14.40 L452.22,14.41 L452.81,14.42 L453.40,14.43 L453.98,14.44 L454.57,14.45 L455.15,14.46 L455.73,14.47 L456.31,14.48 L456.89,14.49 L457.47,14.50 L458.04,14.51 L458.62,14.52 L459.19,14.53 L459.76,14.54 L460.34,14.55 L460.91,14.56 L461.47,14.57 L462.04,14.58 L462.61,14.59 L463.17,14.60 L463.74,14.61 L464.30,14.62 L464.86,14.63 L465.42,14.64 L465.98,14.65 L466.54,14.66 L467.10,14.67 L467.65,14.68 L468.21,14.69 L468.76,14.70 L469.32,14.71 L469.87,14.72 L470.42,14.73 L470.97,14.74 L471.51,14.76 L472.06,14.77 L472.60,14.78 L473.15,14.79 L473.69,14.80 L474.23,14.81 L474.77,14.82 L475.31,14.83 L475.85,14.84 L476.39,14.85 L476.92,14.87 L477.46,14.88 L477.99,14.89 L478.53,14.90 L479.06,14.91 L479.59,14.92 L480.12,14.94 L480.64,14.95 L481.17,14.96 L481.70,14.97 L482.22,14.98 L482.74,14.99 L483.27,15.01 L483.79,15.02 L484.31,15.03 L484.83,15.04 L485.34,15.05 L485.86,15.07 L486.38,15.08 L486.89,15.09 L487.40,15.10 L487.92,15.11 L488.43,15.13 L488.94,15.14 L489.45,15.15 L489.95,15.16 L490.46,15.18 L490.96,15.19 L491.47,15.20 L491.97,15.21 L492.47,15.23 L492.98,15.24 L493.48,15.25 L494.22,15.27 L494.97,15.29 L495.71,15.31 L496.45,15.33 L497.19,15.35 L497.93,15.37 L498.66,15.39 L499.39,15.41 L500.12,15.43 L500.84,15.45 L501.57,15.47 L502.29,15.49 L503.01,15.51 L503.72,15.53 L504.44,15.55 L505.15,15.57 L505.86,15.60 L506.57,15.62 L507.27,15.64 L507.97,15.66 L508.67,15.68 L509.37,15.70 L510.06,15.73 L510.76,15.75 L511.45,15.77 L512.14,15.79 L512.82,15.82 L513.51,15.84 L514.19,15.86 L514.87,15.89 L515.54,15.91 L516.22,15.93 L516.89,15.96 L517.56,15.98 L518.23,16.01 L518.89,16.03 L519.55,16.05 L520.22,16.08 L520.87,16.10 L521.53,16.13 L522.18,16.15 L522.84,16.18 L523.49,16.21 L524.13,16.23 L524.78,16.26 L525.42,16.28 L526.06,16.31 L526.70,16.34 L527.34,16.36 L527.97,16.39 L528.60,16.42 L529.23,16.45 L529.86,16.47 L530.49,16.50 L531.11,16.53 L531.73,16.56 L532.35,16.59 L532.97,16.61 L533.58,16.64 L534.20,16.67 L534.81,16.70 L535.42,16.73 L536.02,16.76 L536.63,16.79 L537.23,16.82 L537.83,16.85 L538.43,16.88 L539.02,16.92 L539.62,16.95 L540.21,16.98 L540.80,17.01 L541.39,17.04 L541.97,17.07 L542.56,17.11 L543.14,17.14 L543.72,17.17 L544.30,17.21 L544.87,17.24 L545.44,17.27 L546.02,17.31 L546.59,17.34 L547.15,17.38 L547.72,17.41 L548.28,17.45 L548.84,17.48 L549.40,17.52 L549.96,17.55 L550.52,17.59 L551.07,17.63 L551.62,17.66 L552.17,17.70 L552.72,17.74 L553.27,17.78 L553.81,17.81 L554.35,17.85 L554.89,17.89 L555.43,17.93 L555.97,17.97 L556.50,18.01 L557.03,18.05 L557.56,18.09 L558.09,18.13 L558.62,18.17 L559.14,18.21 L559.66,18.25 L560.19,18.29 L560.71,18.33 L561.22,18.37 L561.74,18.41 L562.25,18.46 L562.76,18.50 L563.27,18.54 L563.78,18.59 L564.29,18.63 L564.79,18.67 L565.29,18.72 L565.79,18.76 L566.29,18.81 L566.96,18.87 L567.61,18.93 L568.27,18.99 L568.92,19.05 L569.57,19.11 L570.22,19.18 L570.86,19.24 L571.50,19.30 L572.14,19.37 L572.77,19.43 L573.40,19.50 L574.03,19.56 L574.65,19.63 L575.28,19.70 L575.89,19.77 L576.51,19.83 L577.12,19.90 L577.73,19.97 L578.34,20.04 L578.94,20.11 L579.54,20.18 L580.14,20.26 L580.73,20.33 L581.32,20.40 L581.91,20.47 L582.50,20.55 L583.08,20.62 L583.66,20.70 L584.24,20.77 L584.81,20.85 L585.38,20.93 L585.95,21.00 L586.51,21.08 L587.08,21.16 L587.64,21.24 L588.19,21.32 L588.75,21.40 L589.30,21.48 L589.84,21.56 L590.39,21.64 L590.93,21.72 L591.47,21.81 L592.01,21.89 L592.54,21.97 L593.08,22.06 L593.60,22.14 L594.13,22.23 L594.65,22.31 L595.17,22.40 L595.69,22.49 L596.21,22.58 L596.72,22.66 L597.23,22.75 L597.74,22.84 L598.24,22.93 L598.74,23.02 L599.24,23.11 L599.74,23.21 L600.24,23.30 L600.73,23.39 L601.34,23.51 L601.95,23.63 L602.55,23.74 L603.15,23.86 L603.74,23.98 L604.33,24.10 L604.92,24.23 L605.51,24.35 L606.08,24.47 L606.66,24.60 L607.23,24.72 L607.80,24.85 L608.37,24.97 L608.93,25.10 L609.48,25.23 L610.04,25.36 L610.59,25.49 L611.13,25.62 L611.67,25.75 L612.21,25.89 L612.75,26.02 L613.28,26.15 L613.81,26.29 L614.33,26.42 L614.85,26.56 L615.37,26.70 L615.88,26.84 L616.39,26.98 L616.90,27.12 L617.40,27.26 L617.90,27.40 L618.40,27.54 L618.89,27.68 L619.38,27.83 L619.86,27.97 L620.35,28.12 L620.82,28.26 L621.40,28.44 L621.96,28.62 L622.52,28.80 L623.08,28.98 L623.63,29.16 L624.18,29.34 L624.72,29.52 L625.26,29.71 L625.79,29.89 L626.32,30.08 L626.84,30.26 L627.36,30.45 L627.88,30.64 L628.39,30.83 L628.90,31.02 L629.40,31.22 L629.90,31.41 L630.39,31.60 L630.88,31.80 L631.36,31.99 L631.85,32.19 L632.32,32.39 L632.79,32.59 L633.26,32.79 L633.73,32.99 L634.19,33.19 L634.72,33.43 L635.24,33.67 L635.77,33.91 L636.28,34.15 L636.79,34.39 L637.30,34.64 L637.80,34.88 L638.29,35.13 L638.78,35.38 L639.26,35.63 L639.74,35.88 L640.22,36.13 L640.68,36.38 L641.15,36.63 L641.61,36.89 L642.06,37.14 L642.51,37.40 L642.95,37.66 L643.39,37.92 L643.83,38.18 L644.26,38.44 L644.68,38.70 L645.16,39.01 L645.64,39.31 L646.11,39.62 L646.57,39.92 L647.03,40.23 L647.48,40.54 L647.92,40.85 L648.36,41.16 L648.80,41.47 L649.22,41.79 L649.65,42.10 L650.07,42.42 L650.48,42.74 L650.88,43.06 L651.29,43.38 L651.68,43.70 L652.07,44.03 L652.46,44.35 L652.84,44.68 L653.26,45.05 L653.68,45.42 L654.09,45.79 L654.49,46.16 L654.89,46.54 L655.28,46.92 L655.67,47.29 L656.05,47.67 L656.42,48.05 L656.79,48.44 L657.15,48.82 L657.51,49.20 L657.86,49.59 L658.21,49.98 L658.55,50.37 L658.88,50.76 L659.21,51.15 L659.54,51.54 L659.86,51.94 L660.17,52.33 L660.48,52.73 L660.79,53.13 L661.12,53.57 L661.44,54.02 L661.77,54.47 L662.08,54.91 L662.39,55.37 L662.69,55.82 L662.99,56.27 L663.28,56.72 L663.57,57.18 L663.85,57.64 L664.13,58.10 L664.40,58.56 L664.66,59.02 L664.92,59.48 L665.18,59.94 L665.43,60.41 L665.68,60.88 L665.92,61.35 L666.15,61.81 L666.38,62.29 L666.61,62.76 L666.83,63.23 L667.05,63.70 L667.27,64.18 L667.48,64.66 L667.68,65.13 L667.88,65.61 L668.08,66.09 L668.27,66.58 L668.46,67.06 L668.65,67.54 L668.83,68.03 L669.01,68.51 L669.18,69.00 L669.35,69.49 L669.52,69.98 L669.68,70.47 L669.84,70.96 L669.99,71.45 L670.15,71.94 L670.30,72.44 L670.44,72.93 L670.58,73.43 L670.72,73.93 L670.86,74.43 L670.99,74.92 L671.12,75.43 L671.25,75.93 L671.38,76.43 L671.50,76.93 L671.62,77.44 L671.73,77.94 L671.84,78.45 L671.96,78.96 L672.06,79.46 L672.17,79.97 L672.27,80.48 L672.37,80.99 L672.47,81.51 L672.57,82.02 L672.66,82.53 L672.75,83.05 L672.84,83.56 L672.92,84.08 L673.01,84.59 L673.09,85.11 L673.17,85.63 L673.25,86.15 L673.32,86.67 L673.40,87.19 L673.47,87.72 L673.54,88.24 L673.61,88.76 L673.68,89.29 L673.74,89.81 L673.80,90.34 L673.86,90.87 L673.92,91.40 L673.98,91.93 L674.04,92.46 L674.09,92.99 L674.15,93.52 L674.20,94.05 L674.25,94.58 L674.30,95.12 L674.34,95.65 L674.39,96.19 L674.43,96.73 L674.48,97.26 L674.52,97.80 L674.56,98.34 L674.60,98.88 L674.64,99.42 L674.67,99.97 L674.71,100.51 L674.75,101.05 L674.78,101.60 L674.81,102.14 L674.84,102.69 L674.87,103.24 L674.90,103.78 L674.93,104.33 L674.96,104.88 L674.99,105.43 L675.01,105.99 L675.04,106.54 L675.06,107.09 L675.08,107.65 L675.10,108.15 L675.12,108.65 L675.14,109.15 L675.16,109.65 L675.18,110.15 L675.20,110.66 L675.21,111.16 L675.23,111.67 L675.24,112.17 L675.26,112.68 L675.27,113.18 L675.29,113.69 L675.30,114.20 L675.31,114.71 L675.33,115.22 L675.34,115.73 L675.35,116.25 L675.36,116.76 L675.37,117.27 L675.38,117.79 L675.39,118.30 L675.40,118.82 L675.41,119.34 L675.42,119.86 L675.43,120.37 L675.44,120.89 L675.45,121.42 L675.45,121.94 L675.46,122.46 L675.47,122.98 L675.48,123.51 L675.48,124.03 L675.49,124.56 L675.49,125.09 L675.50,125.62 L675.51,126.15 L675.51,126.68 L675.52,127.21 L675.52,127.74 L675.52,128.27 L675.53,128.81 L675.53,129.35 L675.54,129.88 L675.54,130.42 L675.54,130.96 L675.55,131.50 L675.55,132.04 L675.55,132.58 L675.56,133.13 L675.56,133.67 L675.56,134.22 L675.56,134.77 L675.57,135.31 L675.57,135.86 L675.57,136.42 L675.57,136.97 L675.58,137.52 L675.58,138.08 L675.58,138.63 L675.58,139.19 L675.58,139.75 L675.58,140.31 L675.58,140.87 L675.59,141.38 L675.59,141.88 L675.59,142.38 L675.59,142.89 L675.59,143.39 L675.59,143.90 L675.59,144.41 L675.59,144.92 L675.59,145.43 L675.59,145.94 L675.59,146.46 L675.59,146.97 L675.59,147.49 L675.59,148.01 L675.60,148.53 L675.60,149.05 L675.60,149.57 L675.60,150.10 L675.60,150.63 L675.60,151.16 L675.60,151.69 L675.60,152.22 L675.60,152.75 L675.60,153.29 L675.60,153.83 L675.60,154.36 L675.60,154.91 L675.60,155.45 L675.60,156.00 L675.60,156.54 L675.60,157.10 L675.60,157.65 L675.60,158.20 L675.60,158.76 L675.60,159.32 L675.60,159.89 L675.60,160.45 L675.60,161.02 L675.60,161.52 L675.60,162.02 L675.60,162.53 L675.60,163.03 L675.60,163.54 L675.60,164.06 L675.60,164.57 L675.60,165.09 L675.60,165.61 L675.60,166.14 L675.60,166.66 L675.60,167.20 L675.60,167.73 L675.60,168.27 L675.60,168.81 L675.60,169.36 L675.60,169.91 L675.60,170.46 L675.60,171.03 L675.60,171.59 L675.60,172.16 L675.60,172.74 L675.60,173.24 L675.60,173.75 L675.60,174.26 L675.60,174.78 L675.60,175.30 L675.60,175.83 L675.60,176.37 L675.60,176.92 L675.60,177.10" stroke="#000" stroke-width="1.9" fill="none" stroke-dasharray="6.4 2.3 1.7 2.5" stroke-dashoffset="-0.6"/>
<path d="M385.70,5.66 L386.90,5.66 L387.62,5.65 L388.34,5.65 L389.06,5.64 L389.78,5.64 L390.49,5.64 L391.21,5.63 L391.92,5.63 L392.63,5.63 L393.34,5.63 L394.05,5.63 L394.75,5.62 L395.46,5.62 L396.16,5.62 L396.87,5.62 L397.57,5.62 L398.27,5.62 L398.97,5.62 L399.66,5.62 L400.36,5.62 L401.05,5.62 L401.75,5.62 L402.44,5.63 L403.13,5.63 L403.82,5.63 L404.50,5.63 L405.19,5.63 L405.87,5.63 L406.56,5.64 L407.24,5.64 L407.92,5.64 L408.60,5.65 L409.27,5.65 L409.95,5.65 L410.62,5.66 L411.30,5.66 L411.97,5.66 L412.64,5.67 L413.31,5.67 L413.98,5.68 L414.64,5.68 L415.31,5.68 L415.97,5.69 L416.64,5.69 L417.30,5.70 L417.96,5.70 L418.62,5.71 L419.27,5.71 L419.93,5.72 L420.58,5.72 L421.24,5.73 L421.89,5.74 L422.54,5.74 L423.19,5.75 L423.83,5.75 L424.48,5.76 L425.13,5.77 L425.77,5.77 L426.41,5.78 L427.05,5.78 L427.69,5.79 L428.33,5.80 L428.97,5.80 L429.60,5.81 L430.24,5.82 L430.87,5.82 L431.50,5.83 L432.13,5.84 L432.76,5.84 L433.39,5.85 L434.02,5.86 L434.64,5.87 L435.27,5.87 L435.89,5.88 L436.51,5.89 L437.13,5.89 L437.75,5.90 L438.37,5.91 L438.99,5.92 L439.60,5.92 L440.21,5.93 L440.83,5.94 L441.44,5.95 L442.05,5.95 L442.66,5.96 L443.26,5.97 L443.87,5.98 L444.47,5.98 L445.08,5.99 L445.68,6.00 L446.28,6.01 L446.88,6.02 L447.48,6.02 L448.08,6.03 L448.67,6.04 L449.27,6.05 L449.86,6.06 L450.45,6.06 L451.05,6.07 L451.64,6.08 L452.22,6.09 L452.81,6.10 L453.40,6.10 L453.98,6.11 L454.57,6.12 L455.15,6.13 L455.73,6.14 L456.31,6.15 L456.89,6.15 L457.47,6.16 L458.04,6.17 L458.62,6.18 L459.19,6.19 L459.76,6.20 L460.34,6.20 L460.91,6.21 L461.47,6.22 L462.04,6.23 L462.61,6.24 L463.17,6.25 L463.74,6.25 L464.30,6.26 L464.86,6.27 L465.42,6.28 L465.98,6.29 L466.54,6.30 L467.10,6.31 L467.65,6.31 L468.21,6.32 L468.76,6.33 L469.32,6.34 L469.87,6.35 L470.42,6.36 L470.97,6.37 L471.51,6.38 L472.06,6.39 L472.60,6.39 L473.15,6.40 L473.69,6.41 L474.23,6.42 L474.77,6.43 L475.31,6.44 L475.85,6.45 L476.39,6.46 L476.92,6.47 L477.46,6.48 L477.99,6.48 L478.53,6.49 L479.06,6.50 L479.59,6.51 L480.12,6.52 L480.64,6.53 L481.17,6.54 L481.70,6.55 L482.22,6.56 L482.74,6.57 L483.27,6.58 L483.79,6.59 L484.31,6.60 L484.83,6.61 L485.34,6.62 L485.86,6.63 L486.38,6.64 L486.89,6.65 L487.40,6.66 L487.92,6.67 L488.43,6.68 L488.94,6.69 L489.45,6.70 L489.95,6.71 L490.46,6.72 L490.96,6.73 L491.47,6.74 L491.97,6.75 L492.47,6.76 L492.98,6.77 L493.48,6.78 L494.22,6.79 L494.97,6.81 L495.71,6.83 L496.45,6.84 L497.19,6.86 L497.93,6.87 L498.66,6.89 L499.39,6.91 L500.12,6.92 L500.84,6.94 L501.57,6.96 L502.29,6.98 L503.01,6.99 L503.72,7.01 L504.44,7.03 L505.15,7.05 L505.86,7.06 L506.57,7.08 L507.27,7.10 L507.97,7.12 L508.67,7.14 L509.37,7.16 L510.06,7.18 L510.76,7.19 L511.45,7.21 L512.14,7.23 L512.82,7.25 L513.51,7.27 L514.19,7.29 L514.87,7.31 L515.54,7.33 L516.22,7.35 L516.89,7.38 L517.56,7.40 L518.23,7.42 L518.89,7.44 L519.55,7.46 L520.22,7.48 L520.87,7.51 L521.53,7.53 L522.18,7.55 L522.84,7.57 L523.49,7.60 L524.13,7.62 L524.78,7.64 L525.42,7.67 L526.06,7.69 L526.70,7.71 L527.34,7.74 L527.97,7.76 L528.60,7.79 L529.23,7.81 L529.86,7.84 L530.49,7.87 L531.11,7.89 L531.73,7.92 L532.35,7.94 L532.97,7.97 L533.58,8.00 L534.20,8.03 L534.81,8.05 L535.42,8.08 L536.02,8.11 L536.63,8.14 L537.23,8.17 L537.83,8.19 L538.43,8.22 L539.02,8.25 L539.62,8.28 L540.21,8.31 L540.80,8.34 L541.39,8.37 L541.97,8.40 L542.56,8.44 L543.14,8.47 L543.72,8.50 L544.30,8.53 L544.87,8.56 L545.44,8.60 L546.02,8.63 L546.59,8.66 L547.15,8.69 L547.72,8.73 L548.28,8.76 L548.84,8.80 L549.40,8.83 L549.96,8.87 L550.52,8.90 L551.07,8.94 L551.62,8.97 L552.17,9.01 L552.72,9.05 L553.27,9.08 L553.81,9.12 L554.35,9.16 L554.89,9.20 L555.43,9.23 L555.97,9.27 L556.50,9.31 L557.03,9.35 L557.56,9.39 L558.09,9.43 L558.62,9.47 L559.14,9.51 L559.66,9.55 L560.19,9.59 L560.71,9.63 L561.22,9.68 L561.74,9.72 L562.25,9.76 L562.76,9.80 L563.27,9.85 L563.78,9.89 L564.29,9.93 L564.79,9.98 L565.29,10.02 L565.79,10.07 L566.29,10.11 L566.96,10.17 L567.61,10.23 L568.27,10.30 L568.92,10.36 L569.57,10.42 L570.22,10.48 L570.86,10.55 L571.50,10.61 L572.14,10.68 L572.77,10.75 L573.40,10.81 L574.03,10.88 L574.65,10.95 L575.28,11.02 L575.89,11.09 L576.51,11.15 L577.12,11.23 L577.73,11.30 L578.34,11.37 L578.94,11.44 L579.54,11.51 L580.14,11.59 L580.73,11.66 L581.32,11.74 L581.91,11.81 L582.50,11.89 L583.08,11.96 L583.66,12.04 L584.24,12.12 L584.81,12.20 L585.38,12.28 L585.95,12.36 L586.51,12.44 L587.08,12.52 L587.64,12.60 L588.19,12.68 L588.75,12.76 L589.30,12.85 L589.84,12.93 L590.39,13.01 L590.93,13.10 L591.47,13.19 L592.01,13.27 L592.54,13.36 L593.08,13.45 L593.60,13.54 L594.13,13.62 L594.65,13.71 L595.17,13.80 L595.69,13.89 L596.21,13.99 L596.72,14.08 L597.23,14.17 L597.74,14.26 L598.24,14.36 L598.74,14.45 L599.24,14.55 L599.74,14.64 L600.24,14.74 L600.73,14.83 L601.34,14.96 L601.95,15.08 L602.55,15.20 L603.15,15.33 L603.74,15.45 L604.33,15.58 L604.92,15.71 L605.51,15.83 L606.08,15.96 L606.66,16.09 L607.23,16.23 L607.80,16.36 L608.37,16.49 L608.93,16.62 L609.48,16.76 L610.04,16.89 L610.59,17.03 L611.13,17.17 L611.67,17.31 L612.21,17.44 L612.75,17.58 L613.28,17.72 L613.81,17.87 L614.33,18.01 L614.85,18.15 L615.37,18.30 L615.88,18.44 L616.39,18.59 L616.90,18.73 L617.40,18.88 L617.90,19.03 L618.40,19.18 L618.89,19.33 L619.38,19.48 L619.86,19.63 L620.35,19.79 L620.82,19.94 L621.30,20.09 L621.87,20.28 L622.43,20.47 L622.99,20.66 L623.54,20.85 L624.09,21.04 L624.63,21.23 L625.17,21.42 L625.70,21.62 L626.23,21.81 L626.76,22.01 L627.28,22.21 L627.79,22.41 L628.30,22.61 L628.81,22.81 L629.32,23.01 L629.81,23.21 L630.31,23.42 L630.80,23.62 L631.28,23.83 L631.77,24.04 L632.24,24.25 L632.72,24.46 L633.18,24.67 L633.65,24.88 L634.11,25.09 L634.57,25.31 L635.02,25.52 L635.54,25.77 L636.06,26.03 L636.57,26.28 L637.08,26.54 L637.58,26.80 L638.08,27.06 L638.57,27.32 L639.06,27.58 L639.54,27.84 L640.01,28.11 L640.48,28.37 L640.95,28.64 L641.41,28.91 L641.87,29.18 L642.32,29.45 L642.76,29.72 L643.21,29.99 L643.64,30.27 L644.07,30.54 L644.50,30.82 L644.92,31.10 L645.34,31.37 L645.81,31.70 L646.28,32.02 L646.74,32.34 L647.20,32.67 L647.64,32.99 L648.09,33.32 L648.53,33.65 L648.96,33.98 L649.38,34.31 L649.81,34.65 L650.22,34.98 L650.63,35.32 L651.04,35.66 L651.44,36.00 L651.83,36.34 L652.22,36.68 L652.60,37.02 L652.98,37.37 L653.36,37.71 L653.72,38.06 L654.09,38.41 L654.45,38.76 L654.85,39.15 L655.24,39.55 L655.63,39.95 L656.01,40.35 L656.38,40.75 L656.75,41.15 L657.11,41.56 L657.47,41.96 L657.82,42.37 L658.17,42.78 L658.51,43.19 L658.85,43.60 L659.18,44.01 L659.50,44.43 L659.82,44.84 L660.14,45.26 L660.45,45.68 L660.75,46.10 L661.05,46.52 L661.35,46.94 L661.64,47.37 L661.92,47.79 L662.20,48.22 L662.48,48.64 L662.75,49.07 L663.02,49.50 L663.28,49.93 L663.54,50.37 L663.79,50.80 L664.04,51.24 L664.29,51.67 L664.56,52.16 L664.82,52.65 L665.08,53.13 L665.33,53.62 L665.58,54.12 L665.82,54.61 L666.06,55.10 L666.29,55.60 L666.52,56.10 L666.75,56.59 L666.97,57.09 L667.18,57.59 L667.39,58.10 L667.60,58.60 L667.80,59.10 L668.00,59.61 L668.20,60.12 L668.39,60.62 L668.57,61.13 L668.76,61.64 L668.94,62.16 L669.11,62.67 L669.28,63.18 L669.45,63.70 L669.61,64.21 L669.77,64.73 L669.93,65.25 L670.09,65.77 L670.24,66.29 L670.38,66.81 L670.53,67.33 L670.67,67.86 L670.81,68.38 L670.94,68.91 L671.07,69.44 L671.20,69.96 L671.33,70.49 L671.45,71.02 L671.57,71.55 L671.69,72.09 L671.80,72.62 L671.91,73.15 L672.02,73.69 L672.13,74.22 L672.23,74.76 L672.33,75.30 L672.43,75.84 L672.53,76.38 L672.62,76.92 L672.71,77.46 L672.80,78.00 L672.89,78.55 L672.98,79.09 L673.06,79.64 L673.14,80.18 L673.22,80.73 L673.29,81.28 L673.37,81.83 L673.44,82.38 L673.51,82.93 L673.58,83.43 L673.64,83.92 L673.70,84.42 L673.75,84.92 L673.81,85.42 L673.86,85.92 L673.92,86.42 L673.97,86.92 L674.02,87.43 L674.07,87.93 L674.12,88.43 L674.17,88.94 L674.21,89.44 L674.26,89.95 L674.30,90.46 L674.34,90.96 L674.38,91.47 L674.43,91.98 L674.46,92.49 L674.50,93.00 L674.54,93.51 L674.58,94.03 L674.61,94.54 L674.65,95.05 L674.68,95.57 L674.71,96.08 L674.74,96.60 L674.77,97.11 L674.80,97.63 L674.83,98.15 L674.86,98.67 L674.89,99.19 L674.91,99.71 L674.94,100.23 L674.96,100.75 L674.99,101.27 L675.01,101.79 L675.03,102.32 L675.05,102.84 L675.08,103.37 L675.10,103.89 L675.12,104.42 L675.13,104.95 L675.15,105.48 L675.17,106.01 L675.19,106.54 L675.21,107.07 L675.22,107.60 L675.24,108.13 L675.25,108.67 L675.27,109.20 L675.28,109.73 L675.30,110.27 L675.31,110.81 L675.32,111.35 L675.33,111.88 L675.35,112.42 L675.36,112.96 L675.37,113.50 L675.38,114.05 L675.39,114.59 L675.40,115.13 L675.41,115.68 L675.42,116.22 L675.43,116.77 L675.44,117.32 L675.44,117.87 L675.45,118.42 L675.46,118.97 L675.47,119.52 L675.47,120.07 L675.48,120.62 L675.49,121.18 L675.49,121.73 L675.50,122.29 L675.50,122.85 L675.51,123.41 L675.51,123.96 L675.52,124.53 L675.52,125.09 L675.53,125.59 L675.53,126.09 L675.53,126.59 L675.54,127.09 L675.54,127.60 L675.54,128.10 L675.55,128.61 L675.55,129.12 L675.55,129.62 L675.56,130.13 L675.56,130.64 L675.56,131.15 L675.56,131.66 L675.56,132.18 L675.57,132.69 L675.57,133.21 L675.57,133.72 L675.57,134.24 L675.57,134.76 L675.58,135.28 L675.58,135.80 L675.58,136.32 L675.58,136.84 L675.58,137.36 L675.58,137.89 L675.58,138.42 L675.59,138.94 L675.59,139.47 L675.59,140.00 L675.59,140.53 L675.59,141.07 L675.59,141.60 L675.59,142.14 L675.59,142.67 L675.59,143.21 L675.59,143.75 L675.59,144.29 L675.59,144.84 L675.59,145.38 L675.59,145.93 L675.60,146.47 L675.60,147.02 L675.60,147.57 L675.60,148.13 L675.60,148.68 L675.60,149.24 L675.60,149.79 L675.60,150.35 L675.60,150.92 L675.60,151.48 L675.60,152.05 L675.60,152.61 L675.60,153.18 L675.60,153.69 L675.60,154.19 L675.60,154.69 L675.60,155.20 L675.60,155.71 L675.60,156.21 L675.60,156.73 L675.60,157.24 L675.60,157.76 L675.60,158.27 L675.60,158.79 L675.60,159.32 L675.60,159.84 L675.60,160.37 L675.60,160.90 L675.60,161.43 L675.60,161.96 L675.60,162.50 L675.60,163.04 L675.60,163.58 L675.60,164.13 L675.60,164.68 L675.60,165.23 L675.60,165.79 L675.60,166.35 L675.60,166.91 L675.60,167.48 L675.60,168.05 L675.60,168.63 L675.60,169.21 L675.60,169.71 L675.60,170.21 L675.60,170.72 L675.60,171.24 L675.60,171.75 L675.60,172.28 L675.60,172.81 L675.60,173.34 L675.60,173.88 L675.60,174.43 L675.60,174.98 L675.60,175.54 L675.60,176.11 L675.60,176.69 L675.60,177.08" stroke="#00f" stroke-width="1.5" fill="none"/>
<rect x="386.5" y="2.15" width="293.00" height="181.05" fill="none" stroke="#333" stroke-width="1.0"/>
<path d="M386.90,183.2 v-3.8 M386.90,2.15 v3.8 M395.15,183.2 v-2.2 M395.15,2.15 v2.2 M403.40,183.2 v-2.2 M403.40,2.15 v2.2 M411.65,183.2 v-2.2 M411.65,2.15 v2.2 M419.89,183.2 v-2.2 M419.89,2.15 v2.2 M428.14,183.2 v-3.8 M428.14,2.15 v3.8 M436.39,183.2 v-2.2 M436.39,2.15 v2.2 M444.64,183.2 v-2.2 M444.64,2.15 v2.2 M452.89,183.2 v-2.2 M452.89,2.15 v2.2 M461.14,183.2 v-2.2 M461.14,2.15 v2.2 M469.39,183.2 v-3.8 M469.39,2.15 v3.8 M477.63,183.2 v-2.2 M477.63,2.15 v2.2 M485.88,183.2 v-2.2 M485.88,2.15 v2.2 M494.13,183.2 v-2.2 M494.13,2.15 v2.2 M502.38,183.2 v-2.2 M502.38,2.15 v2.2 M510.63,183.2 v-3.8 M510.63,2.15 v3.8 M518.88,183.2 v-2.2 M518.88,2.15 v2.2 M527.13,183.2 v-2.2 M527.13,2.15 v2.2 M535.37,183.2 v-2.2 M535.37,2.15 v2.2 M543.62,183.2 v-2.2 M543.62,2.15 v2.2 M551.87,183.2 v-3.8 M551.87,2.15 v3.8 M560.12,183.2 v-2.2 M560.12,2.15 v2.2 M568.37,183.2 v-2.2 M568.37,2.15 v2.2 M576.62,183.2 v-2.2 M576.62,2.15 v2.2 M584.87,183.2 v-2.2 M584.87,2.15 v2.2 M593.11,183.2 v-3.8 M593.11,2.15 v3.8 M601.36,183.2 v-2.2 M601.36,2.15 v2.2 M609.61,183.2 v-2.2 M609.61,2.15 v2.2 M617.86,183.2 v-2.2 M617.86,2.15 v2.2 M626.11,183.2 v-2.2 M626.11,2.15 v2.2 M634.36,183.2 v-3.8 M634.36,2.15 v3.8 M642.61,183.2 v-2.2 M642.61,2.15 v2.2 M650.85,183.2 v-2.2 M650.85,2.15 v2.2 M659.10,183.2 v-2.2 M659.10,2.15 v2.2 M667.35,183.2 v-2.2 M667.35,2.15 v2.2 M675.60,183.2 v-3.8 M675.60,2.15 v3.8 M386.5,183.00 h3.8 M679.5,183.00 h-3.8 M386.5,177.17 h2.2 M679.5,177.17 h-2.2 M386.5,171.34 h2.2 M679.5,171.34 h-2.2 M386.5,165.50 h2.2 M679.5,165.50 h-2.2 M386.5,159.67 h2.2 M679.5,159.67 h-2.2 M386.5,153.84 h3.8 M679.5,153.84 h-3.8 M386.5,148.01 h2.2 M679.5,148.01 h-2.2 M386.5,142.18 h2.2 M679.5,142.18 h-2.2 M386.5,136.34 h2.2 M679.5,136.34 h-2.2 M386.5,130.51 h2.2 M679.5,130.51 h-2.2 M386.5,124.68 h3.8 M679.5,124.68 h-3.8 M386.5,118.85 h2.2 M679.5,118.85 h-2.2 M386.5,113.02 h2.2 M679.5,113.02 h-2.2 M386.5,107.18 h2.2 M679.5,107.18 h-2.2 M386.5,101.35 h2.2 M679.5,101.35 h-2.2 M386.5,95.52 h3.8 M679.5,95.52 h-3.8 M386.5,89.69 h2.2 M679.5,89.69 h-2.2 M386.5,83.86 h2.2 M679.5,83.86 h-2.2 M386.5,78.02 h2.2 M679.5,78.02 h-2.2 M386.5,72.19 h2.2 M679.5,72.19 h-2.2 M386.5,66.36 h3.8 M679.5,66.36 h-3.8 M386.5,60.53 h2.2 M679.5,60.53 h-2.2 M386.5,54.70 h2.2 M679.5,54.70 h-2.2 M386.5,48.86 h2.2 M679.5,48.86 h-2.2 M386.5,43.03 h2.2 M679.5,43.03 h-2.2 M386.5,37.20 h3.8 M679.5,37.20 h-3.8 M386.5,31.37 h2.2 M679.5,31.37 h-2.2 M386.5,25.54 h2.2 M679.5,25.54 h-2.2 M386.5,19.70 h2.2 M679.5,19.70 h-2.2 M386.5,13.87 h2.2 M679.5,13.87 h-2.2 M386.5,8.04 h3.8 M679.5,8.04 h-3.8 M386.5,2.21 h2.2 M679.5,2.21 h-2.2" stroke="#333" stroke-width="1" fill="none"/>
<text x="386.90" y="197.3" class="tl" text-anchor="middle">0.3</text>
<text x="428.14" y="197.3" class="tl" text-anchor="middle">0.4</text>
<text x="469.39" y="197.3" class="tl" text-anchor="middle">0.5</text>
<text x="510.63" y="197.3" class="tl" text-anchor="middle">0.6</text>
<text x="551.87" y="197.3" class="tl" text-anchor="middle">0.7</text>
<text x="593.11" y="197.3" class="tl" text-anchor="middle">0.8</text>
<text x="634.36" y="197.3" class="tl" text-anchor="middle">0.9</text>
<text x="675.60" y="197.3" class="tl" text-anchor="middle">1.0</text>
<text x="383.30" y="187.30" class="tl" text-anchor="end">0</text>
<text x="383.30" y="158.14" class="tl" text-anchor="end">1</text>
<text x="383.30" y="128.98" class="tl" text-anchor="end">2</text>
<text x="383.30" y="99.82" class="tl" text-anchor="end">3</text>
<text x="383.30" y="70.66" class="tl" text-anchor="end">4</text>
<text x="383.30" y="41.50" class="tl" text-anchor="end">5</text>
<text x="383.30" y="12.34" class="tl" text-anchor="end">6</text>
<path d="M391.00,146.15 h15.4" stroke="#f00" stroke-width="1.5" stroke-dasharray="6.1 2.7"/>
<path d="M391.20,158.75 h18" stroke="#000" stroke-width="1.4" stroke-dasharray="6.0 2.1 1.8 2.3"/>
<path d="M391.20,170.95 h17.5" stroke="#00f" stroke-width="1.3"/>
<text x="412.70" y="149.35" class="lg">b=0</text>
<text x="412.70" y="161.95" class="lg">b=0.02</text>
<text x="412.70" y="174.45" class="lg">b=0.04</text>
<text y="218.2" class="al"><tspan x="520.40" textLength="6.6" lengthAdjust="spacingAndGlyphs">T</tspan><tspan x="527.90" fill="transparent">/</tspan><tspan x="532.70" font-style="italic">T</tspan><tspan x="539.80" dy="2" class="sub" font-style="italic">c</tspan></text>
<path d="M528.90,219.6 L532.00,209.3" stroke="#000" stroke-width="0.85"/>
<g transform="translate(367.50,123.20) rotate(-90)"><text x="0" y="0" class="yl">&lt;<tspan font-style="italic">J</tspan><tspan class="sub" dy="1.8" font-style="italic">x</tspan><tspan dx="1.8" dy="-1.8">&gt;</tspan><tspan class="sup" dx="1.2" dy="-5.6">1/3</tspan><tspan dx="0.5" dy="5.6" fill="transparent">/</tspan><tspan font-style="italic">T</tspan><tspan class="sub" dy="1.8" font-style="italic">c</tspan></text></g>
<path d="M358.60,76.1 L368.90,79.5" stroke="#000" stroke-width="0.85"/>
<text x="128.0" y="237.0" class="cap bl" font-weight="bold" textLength="18.3" lengthAdjust="spacingAndGlyphs">(a)</text>
<text x="152.8" y="237.0" class="cap al2" font-style="italic" textLength="8.2" lengthAdjust="spacingAndGlyphs">α</text>
<rect x="166.00" y="231.3" width="9.3" height="0.55" fill="#000"/>
<rect x="166.00" y="234.3" width="9.3" height="0.55" fill="#000"/>
<text x="180.3" y="237.0" class="cap dg">0.08</text>
<text x="476.2" y="237.0" class="cap bl" font-weight="bold" textLength="19.6" lengthAdjust="spacingAndGlyphs">(b)</text>
<text x="501.4" y="237.0" class="cap al2" font-style="italic" textLength="8.2" lengthAdjust="spacingAndGlyphs">α</text>
<rect x="514.80" y="231.3" width="9.3" height="0.55" fill="#000"/>
<rect x="514.80" y="234.3" width="9.3" height="0.55" fill="#000"/>
<rect x="529.7" y="232.9" width="8.4" height="0.6" fill="#000"/><text x="539.1" y="237.0" class="cap dg">0.08</text>
</svg>
</body></html>
